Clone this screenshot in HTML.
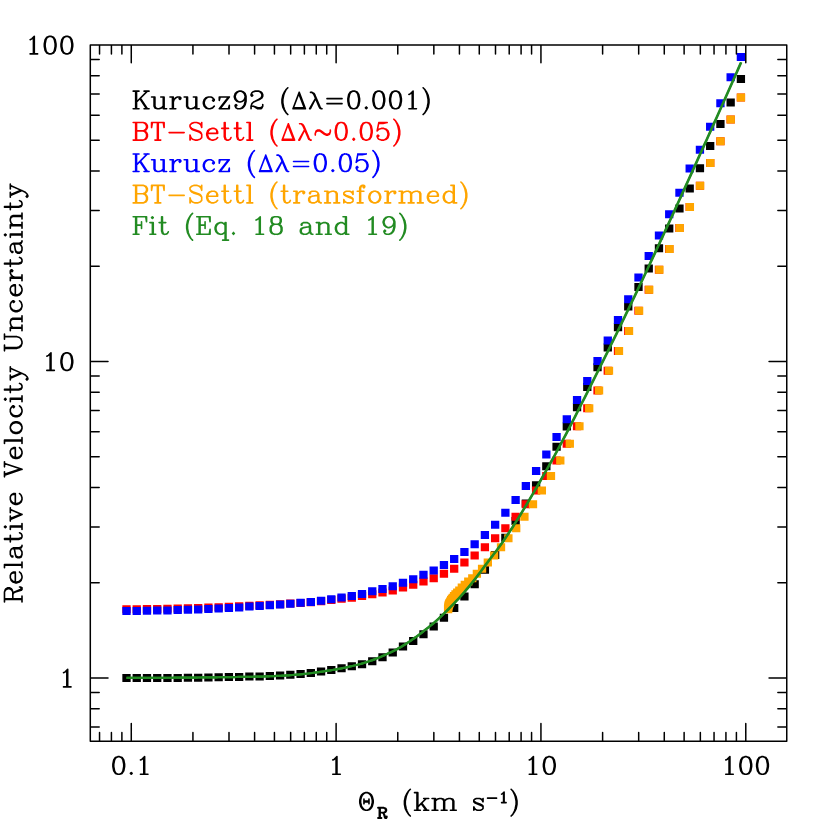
<!DOCTYPE html>
<html><head><meta charset="utf-8"><title>chart</title>
<style>html,body{margin:0;padding:0;background:#fff;font-family:"Liberation Sans",sans-serif}svg{display:block}</style>
</head><body>
<svg width="830" height="830" viewBox="0 0 830 830">
<rect width="830" height="830" fill="#fff"/>
<path d="M122.35 673.90h8.3v8.0h-8.3z M132.59 673.90h8.3v8.0h-8.3z M142.83 673.90h8.3v8.0h-8.3z M153.07 673.90h8.3v8.0h-8.3z M163.31 673.90h8.3v8.0h-8.3z M173.55 673.90h8.3v8.0h-8.3z M183.79 673.80h8.3v8.0h-8.3z M194.03 673.70h8.3v8.0h-8.3z M204.27 673.50h8.3v8.0h-8.3z M214.51 673.30h8.3v8.0h-8.3z M224.75 673.10h8.3v8.0h-8.3z M234.99 672.90h8.3v8.0h-8.3z M245.23 672.60h8.3v8.0h-8.3z M255.47 672.40h8.3v8.0h-8.3z M265.71 672.00h8.3v8.0h-8.3z M275.95 671.40h8.3v8.0h-8.3z M286.19 670.80h8.3v8.0h-8.3z M296.43 670.00h8.3v8.0h-8.3z M306.67 668.90h8.3v8.0h-8.3z M316.91 667.60h8.3v8.0h-8.3z M327.15 666.00h8.3v8.0h-8.3z M337.39 664.20h8.3v8.0h-8.3z M347.63 662.30h8.3v8.0h-8.3z M357.87 660.20h8.3v8.0h-8.3z M368.11 657.20h8.3v8.0h-8.3z M378.35 653.30h8.3v8.0h-8.3z M388.59 648.40h8.3v8.0h-8.3z M398.83 642.50h8.3v8.0h-8.3z M409.07 636.90h8.3v8.0h-8.3z M419.31 630.20h8.3v8.0h-8.3z M429.55 622.40h8.3v8.0h-8.3z M439.79 613.70h8.3v8.0h-8.3z M450.03 603.90h8.3v8.0h-8.3z M460.27 592.60h8.3v8.0h-8.3z M470.51 580.20h8.3v8.0h-8.3z M480.75 565.70h8.3v8.0h-8.3z M490.99 551.00h8.3v8.0h-8.3z M501.23 533.70h8.3v8.0h-8.3z M511.47 517.00h8.3v8.0h-8.3z M521.71 499.50h8.3v8.0h-8.3z M531.95 481.30h8.3v8.0h-8.3z M542.19 462.30h8.3v8.0h-8.3z M552.43 442.70h8.3v8.0h-8.3z M562.67 422.60h8.3v8.0h-8.3z M572.91 403.20h8.3v8.0h-8.3z M583.15 383.00h8.3v8.0h-8.3z M593.39 363.20h8.3v8.0h-8.3z M603.63 343.50h8.3v8.0h-8.3z M613.87 323.30h8.3v8.0h-8.3z M624.11 302.50h8.3v8.0h-8.3z M634.35 282.90h8.3v8.0h-8.3z M644.59 264.40h8.3v8.0h-8.3z M654.83 244.20h8.3v8.0h-8.3z M665.07 224.50h8.3v8.0h-8.3z M675.31 204.50h8.3v8.0h-8.3z M685.55 184.40h8.3v8.0h-8.3z M695.79 164.20h8.3v8.0h-8.3z M706.03 142.00h8.3v8.0h-8.3z M716.27 120.10h8.3v8.0h-8.3z M726.51 98.50h8.3v8.0h-8.3z M736.75 75.00h8.3v8.0h-8.3z" fill="#000000"/>
<path d="M122.35 605.20h8.3v8.0h-8.3z M132.59 605.14h8.3v8.0h-8.3z M142.83 605.08h8.3v8.0h-8.3z M153.07 604.92h8.3v8.0h-8.3z M163.31 604.76h8.3v8.0h-8.3z M173.55 604.50h8.3v8.0h-8.3z M183.79 604.24h8.3v8.0h-8.3z M194.03 603.88h8.3v8.0h-8.3z M204.27 603.52h8.3v8.0h-8.3z M214.51 603.16h8.3v8.0h-8.3z M224.75 602.70h8.3v8.0h-8.3z M234.99 602.32h8.3v8.0h-8.3z M245.23 601.63h8.3v8.0h-8.3z M255.47 601.25h8.3v8.0h-8.3z M265.71 600.76h8.3v8.0h-8.3z M275.95 600.28h8.3v8.0h-8.3z M286.19 599.59h8.3v8.0h-8.3z M296.43 598.92h8.3v8.0h-8.3z M306.67 598.37h8.3v8.0h-8.3z M316.91 597.31h8.3v8.0h-8.3z M327.15 596.06h8.3v8.0h-8.3z M337.39 594.70h8.3v8.0h-8.3z M347.63 593.70h8.3v8.0h-8.3z M357.87 592.00h8.3v8.0h-8.3z M368.11 590.30h8.3v8.0h-8.3z M378.35 588.60h8.3v8.0h-8.3z M388.59 586.50h8.3v8.0h-8.3z M398.83 583.60h8.3v8.0h-8.3z M409.07 580.70h8.3v8.0h-8.3z M419.31 577.40h8.3v8.0h-8.3z M429.55 574.20h8.3v8.0h-8.3z M439.79 569.80h8.3v8.0h-8.3z M450.03 564.80h8.3v8.0h-8.3z M460.27 558.50h8.3v8.0h-8.3z M470.51 551.50h8.3v8.0h-8.3z M480.75 543.20h8.3v8.0h-8.3z M490.99 534.30h8.3v8.0h-8.3z M501.23 524.20h8.3v8.0h-8.3z M511.47 512.80h8.3v8.0h-8.3z M521.71 500.20h8.3v8.0h-8.3z M531.95 486.50h8.3v8.0h-8.3z M542.19 472.00h8.3v8.0h-8.3z M552.43 456.40h8.3v8.0h-8.3z M562.67 439.80h8.3v8.0h-8.3z M572.91 422.20h8.3v8.0h-8.3z M583.15 404.20h8.3v8.0h-8.3z M593.39 386.50h8.3v8.0h-8.3z M603.63 366.80h8.3v8.0h-8.3z M613.87 347.00h8.3v8.0h-8.3z M624.11 327.10h8.3v8.0h-8.3z M634.35 306.70h8.3v8.0h-8.3z M644.59 285.80h8.3v8.0h-8.3z M654.83 265.70h8.3v8.0h-8.3z M665.07 244.90h8.3v8.0h-8.3z M675.31 224.10h8.3v8.0h-8.3z M685.55 203.10h8.3v8.0h-8.3z M695.79 181.70h8.3v8.0h-8.3z M706.03 159.10h8.3v8.0h-8.3z M716.27 137.20h8.3v8.0h-8.3z M726.51 115.50h8.3v8.0h-8.3z M736.75 93.50h8.3v8.0h-8.3z" fill="#ff0000"/>
<path d="M122.35 607.00h8.3v8.0h-8.3z M132.59 606.90h8.3v8.0h-8.3z M142.83 606.80h8.3v8.0h-8.3z M153.07 606.60h8.3v8.0h-8.3z M163.31 606.40h8.3v8.0h-8.3z M173.55 606.10h8.3v8.0h-8.3z M183.79 605.80h8.3v8.0h-8.3z M194.03 605.40h8.3v8.0h-8.3z M204.27 605.00h8.3v8.0h-8.3z M214.51 604.60h8.3v8.0h-8.3z M224.75 604.10h8.3v8.0h-8.3z M234.99 603.50h8.3v8.0h-8.3z M245.23 602.60h8.3v8.0h-8.3z M255.47 602.00h8.3v8.0h-8.3z M265.71 601.30h8.3v8.0h-8.3z M275.95 600.60h8.3v8.0h-8.3z M286.19 599.70h8.3v8.0h-8.3z M296.43 598.80h8.3v8.0h-8.3z M306.67 598.00h8.3v8.0h-8.3z M316.91 596.70h8.3v8.0h-8.3z M327.15 595.20h8.3v8.0h-8.3z M337.39 593.60h8.3v8.0h-8.3z M347.63 592.00h8.3v8.0h-8.3z M357.87 589.90h8.3v8.0h-8.3z M368.11 587.30h8.3v8.0h-8.3z M378.35 585.10h8.3v8.0h-8.3z M388.59 582.20h8.3v8.0h-8.3z M398.83 578.70h8.3v8.0h-8.3z M409.07 575.20h8.3v8.0h-8.3z M419.31 570.80h8.3v8.0h-8.3z M429.55 566.40h8.3v8.0h-8.3z M439.79 561.10h8.3v8.0h-8.3z M450.03 555.00h8.3v8.0h-8.3z M460.27 548.00h8.3v8.0h-8.3z M470.51 540.20h8.3v8.0h-8.3z M480.75 531.00h8.3v8.0h-8.3z M490.99 520.70h8.3v8.0h-8.3z M501.23 508.80h8.3v8.0h-8.3z M511.47 496.00h8.3v8.0h-8.3z M521.71 482.00h8.3v8.0h-8.3z M531.95 467.00h8.3v8.0h-8.3z M542.19 450.40h8.3v8.0h-8.3z M552.43 433.00h8.3v8.0h-8.3z M562.67 415.30h8.3v8.0h-8.3z M572.91 396.10h8.3v8.0h-8.3z M583.15 377.10h8.3v8.0h-8.3z M593.39 357.00h8.3v8.0h-8.3z M603.63 336.60h8.3v8.0h-8.3z M613.87 316.00h8.3v8.0h-8.3z M624.11 295.30h8.3v8.0h-8.3z M634.35 273.50h8.3v8.0h-8.3z M644.59 251.90h8.3v8.0h-8.3z M654.83 231.40h8.3v8.0h-8.3z M665.07 210.20h8.3v8.0h-8.3z M675.31 188.70h8.3v8.0h-8.3z M685.55 164.60h8.3v8.0h-8.3z M695.79 145.80h8.3v8.0h-8.3z M706.03 122.70h8.3v8.0h-8.3z M716.27 99.20h8.3v8.0h-8.3z M726.51 73.20h8.3v8.0h-8.3z M736.75 53.10h8.3v8.0h-8.3z" fill="#0000ff"/>
<path d="M443.94 605.20h8.3v8.0h-8.3z M443.95 605.14h8.3v8.0h-8.3z M443.96 605.08h8.3v8.0h-8.3z M443.97 604.92h8.3v8.0h-8.3z M443.99 604.76h8.3v8.0h-8.3z M444.01 604.50h8.3v8.0h-8.3z M444.04 604.24h8.3v8.0h-8.3z M444.07 603.88h8.3v8.0h-8.3z M444.11 603.52h8.3v8.0h-8.3z M444.16 603.16h8.3v8.0h-8.3z M444.23 602.70h8.3v8.0h-8.3z M444.31 602.32h8.3v8.0h-8.3z M444.42 601.63h8.3v8.0h-8.3z M444.55 601.25h8.3v8.0h-8.3z M444.71 600.76h8.3v8.0h-8.3z M444.92 600.28h8.3v8.0h-8.3z M445.17 599.59h8.3v8.0h-8.3z M445.50 598.92h8.3v8.0h-8.3z M445.90 598.37h8.3v8.0h-8.3z M446.40 597.31h8.3v8.0h-8.3z M447.02 596.06h8.3v8.0h-8.3z M447.79 594.70h8.3v8.0h-8.3z M448.74 593.70h8.3v8.0h-8.3z M449.91 592.00h8.3v8.0h-8.3z M451.34 590.30h8.3v8.0h-8.3z M453.08 588.60h8.3v8.0h-8.3z M455.18 586.50h8.3v8.0h-8.3z M457.68 583.60h8.3v8.0h-8.3z M460.65 580.70h8.3v8.0h-8.3z M464.12 577.40h8.3v8.0h-8.3z M468.14 574.20h8.3v8.0h-8.3z M472.73 569.80h8.3v8.0h-8.3z M477.91 564.80h8.3v8.0h-8.3z M483.67 558.50h8.3v8.0h-8.3z M490.00 551.50h8.3v8.0h-8.3z M496.87 543.20h8.3v8.0h-8.3z M504.24 534.30h8.3v8.0h-8.3z M512.06 524.20h8.3v8.0h-8.3z M520.28 512.80h8.3v8.0h-8.3z M528.84 500.20h8.3v8.0h-8.3z M537.71 486.50h8.3v8.0h-8.3z M546.82 472.00h8.3v8.0h-8.3z M556.15 456.40h8.3v8.0h-8.3z M565.65 439.80h8.3v8.0h-8.3z M575.29 422.20h8.3v8.0h-8.3z M585.05 404.20h8.3v8.0h-8.3z M594.91 386.50h8.3v8.0h-8.3z M604.84 366.80h8.3v8.0h-8.3z M614.83 347.00h8.3v8.0h-8.3z M624.88 327.10h8.3v8.0h-8.3z M634.96 306.70h8.3v8.0h-8.3z M645.08 285.80h8.3v8.0h-8.3z M655.22 265.70h8.3v8.0h-8.3z M665.38 244.90h8.3v8.0h-8.3z M675.55 224.10h8.3v8.0h-8.3z M685.74 203.10h8.3v8.0h-8.3z M695.94 181.70h8.3v8.0h-8.3z M706.15 159.10h8.3v8.0h-8.3z M716.37 137.20h8.3v8.0h-8.3z M726.59 115.50h8.3v8.0h-8.3z M736.81 93.50h8.3v8.0h-8.3z" fill="#ffa500"/>
<path d="M126.25 677.90 L128.25 677.90 L130.25 677.90 L132.25 677.90 L134.25 677.89 L136.25 677.89 L138.25 677.89 L140.25 677.88 L142.25 677.87 L144.25 677.87 L146.25 677.86 L148.25 677.85 L150.25 677.85 L152.25 677.84 L154.25 677.83 L156.25 677.82 L158.25 677.81 L160.25 677.80 L162.25 677.79 L164.25 677.78 L166.25 677.77 L168.25 677.75 L170.25 677.74 L172.25 677.73 L174.25 677.72 L176.25 677.71 L178.25 677.70 L180.25 677.68 L182.25 677.67 L184.25 677.65 L186.25 677.64 L188.25 677.62 L190.25 677.60 L192.25 677.58 L194.25 677.56 L196.25 677.54 L198.25 677.51 L200.25 677.49 L202.25 677.46 L204.25 677.44 L206.25 677.41 L208.25 677.39 L210.25 677.36 L212.25 677.33 L214.25 677.30 L216.25 677.28 L218.25 677.25 L220.25 677.22 L222.25 677.19 L224.25 677.16 L226.25 677.13 L228.25 677.11 L230.25 677.08 L232.25 677.05 L234.25 677.03 L236.25 677.00 L238.25 676.97 L240.25 676.95 L242.25 676.92 L244.25 676.89 L246.25 676.86 L248.25 676.83 L250.25 676.79 L252.25 676.76 L254.25 676.72 L256.25 676.68 L258.25 676.64 L260.25 676.59 L262.25 676.53 L264.25 676.47 L266.25 676.41 L268.25 676.33 L270.25 676.25 L272.25 676.17 L274.25 676.07 L276.25 675.97 L278.25 675.87 L280.25 675.76 L282.25 675.65 L284.25 675.53 L286.25 675.40 L288.25 675.28 L290.25 675.14 L292.25 675.01 L294.25 674.86 L296.25 674.71 L298.25 674.54 L300.25 674.35 L302.25 674.15 L304.25 673.94 L306.25 673.72 L308.25 673.48 L310.25 673.23 L312.25 672.97 L314.25 672.71 L316.25 672.43 L318.25 672.15 L320.25 671.86 L322.25 671.56 L324.25 671.26 L326.25 670.95 L328.25 670.64 L330.25 670.32 L332.25 669.99 L334.25 669.65 L336.25 669.30 L338.25 668.93 L340.25 668.55 L342.25 668.16 L344.25 667.75 L346.25 667.33 L348.25 666.89 L350.25 666.44 L352.25 665.97 L354.25 665.49 L356.25 664.99 L358.25 664.47 L360.25 663.94 L362.25 663.38 L364.25 662.79 L366.25 662.16 L368.25 661.51 L370.25 660.82 L372.25 660.10 L374.25 659.36 L376.25 658.58 L378.25 657.78 L380.25 656.95 L382.25 656.09 L384.25 655.21 L386.25 654.30 L388.25 653.37 L390.25 652.42 L392.25 651.45 L394.25 650.45 L396.25 649.43 L398.25 648.34 L400.25 647.21 L402.25 646.02 L404.25 644.79 L406.25 643.51 L408.25 642.19 L410.25 640.83 L412.25 639.44 L414.25 638.01 L416.25 636.55 L418.25 635.06 L420.25 633.55 L422.25 632.01 L424.25 630.45 L426.25 628.88 L428.25 627.30 L430.25 625.70 L432.25 624.05 L434.25 622.34 L436.25 620.57 L438.25 618.76 L440.25 616.89 L442.25 614.99 L444.25 613.05 L446.25 611.09 L448.25 609.10 L450.25 607.09 L452.25 605.04 L454.25 602.95 L456.25 600.82 L458.25 598.65 L460.25 596.45 L462.25 594.20 L464.25 591.91 L466.25 589.59 L468.25 587.22 L470.25 584.79 L472.25 582.30 L474.25 579.73 L476.25 577.12 L478.25 574.47 L480.25 571.80 L482.25 569.11 L484.25 566.42 L486.25 563.73 L488.25 561.07 L490.25 558.44 L492.25 555.82 L494.25 553.19 L496.25 550.55 L498.25 547.87 L500.25 545.13 L502.25 542.31 L504.25 539.41 L506.25 536.45 L508.25 533.44 L510.25 530.39 L512.25 527.30 L514.25 524.17 L516.25 521.00 L518.25 517.80 L520.25 514.56 L522.25 511.29 L524.25 507.98 L526.25 504.65 L528.25 501.29 L530.25 497.90 L532.25 494.48 L534.25 491.04 L536.25 487.58 L538.25 484.10 L540.25 480.60 L542.25 477.08 L544.25 473.55 L546.25 470.00 L548.25 466.44 L550.25 462.87 L552.25 459.28 L554.25 455.67 L556.25 452.01 L558.25 448.32 L560.25 444.58 L562.25 440.82 L564.25 437.03 L566.25 433.20 L568.25 429.35 L570.25 425.48 L572.25 421.58 L574.25 417.67 L576.25 413.74 L578.25 409.79 L580.25 405.84 L582.25 401.87 L584.25 397.90 L586.25 393.92 L588.25 389.94 L590.25 385.96 L592.25 381.99 L594.25 378.01 L596.25 374.03 L598.25 370.04 L600.25 366.04 L602.25 362.02 L604.25 358.00 L606.25 353.97 L608.25 349.92 L610.25 345.87 L612.25 341.81 L614.25 337.73 L616.25 333.65 L618.25 329.55 L620.25 325.45 L622.25 321.33 L624.25 317.20 L626.25 313.07 L628.25 308.92 L630.25 304.76 L632.25 300.60 L634.25 296.42 L636.25 292.23 L638.25 288.03 L640.25 283.82 L642.25 279.60 L644.25 275.36 L646.25 271.11 L648.25 266.86 L650.25 262.59 L652.25 258.30 L654.25 254.01 L656.25 249.71 L658.25 245.40 L660.25 241.08 L662.25 236.75 L664.25 232.41 L666.25 228.07 L668.25 223.72 L670.25 219.36 L672.25 214.99 L674.25 210.62 L676.25 206.24 L678.25 201.85 L680.25 197.47 L682.25 193.07 L684.25 188.68 L686.25 184.27 L688.25 179.87 L690.25 175.46 L692.25 171.05 L694.25 166.64 L696.25 162.23 L698.25 157.81 L700.25 153.40 L702.25 148.97 L704.25 144.55 L706.25 140.11 L708.25 135.67 L710.25 131.22 L712.25 126.76 L714.25 122.30 L716.25 117.83 L718.25 113.36 L720.25 108.87 L722.25 104.39 L724.25 99.89 L726.25 95.40 L728.25 90.89 L730.25 86.38 L732.25 81.87 L734.25 77.35 L736.25 72.82 L738.25 68.29 L740.85 62.40" fill="none" stroke="#228b22" stroke-width="2.2" stroke-linejoin="round"/>
<path d="M126.75 677.90 L128.75 677.90 L130.75 677.90 L132.75 677.90 L134.75 677.89 L136.75 677.89 L138.75 677.89 L140.75 677.88 L142.75 677.87 L144.75 677.87 L146.75 677.86 L148.75 677.85 L150.75 677.85 L152.75 677.84 L154.75 677.83 L156.75 677.82 L158.75 677.81 L160.75 677.80 L162.75 677.79 L164.75 677.78 L166.75 677.77 L168.75 677.75 L170.75 677.74 L172.75 677.73 L174.75 677.72 L176.75 677.71 L178.75 677.70 L180.75 677.68 L182.75 677.67 L184.75 677.65 L186.75 677.64 L188.75 677.62 L190.75 677.60 L192.75 677.58 L194.75 677.56 L196.75 677.54 L198.75 677.51 L200.75 677.49 L202.75 677.46 L204.75 677.44 L206.75 677.41 L208.75 677.39 L210.75 677.36 L212.75 677.33 L214.75 677.30 L216.75 677.28 L218.75 677.25 L220.75 677.22 L222.75 677.19 L224.75 677.16 L226.75 677.13 L228.75 677.11 L230.75 677.08 L232.75 677.05 L234.75 677.03 L236.75 677.00 L238.75 676.97 L240.75 676.95 L242.75 676.92 L244.75 676.89 L246.75 676.86 L248.75 676.83 L250.75 676.79 L252.75 676.76 L254.75 676.72 L256.75 676.68 L258.75 676.64 L260.75 676.59 L262.75 676.53 L264.75 676.47 L266.75 676.41 L268.75 676.33 L270.75 676.25 L272.75 676.17 L274.75 676.07 L276.75 675.97 L278.75 675.87 L280.75 675.76 L282.75 675.65 L284.75 675.53 L286.75 675.40 L288.75 675.28 L290.75 675.14 L292.75 675.01 L294.75 674.86 L296.75 674.71 L298.75 674.54 L300.75 674.35 L302.75 674.15 L304.75 673.94 L306.75 673.72 L308.75 673.48 L310.75 673.23 L312.75 672.97 L314.75 672.71 L316.75 672.43 L318.75 672.15 L320.75 671.86 L322.75 671.56 L324.75 671.26 L326.75 670.95 L328.75 670.64 L330.75 670.32 L332.75 669.99 L334.75 669.65 L336.75 669.30 L338.75 668.93 L340.75 668.55 L342.75 668.16 L344.75 667.75 L346.75 667.33 L348.75 666.89 L350.75 666.44 L352.75 665.97 L354.75 665.49 L356.75 664.99 L358.75 664.47 L360.75 663.94 L362.75 663.38 L364.75 662.79 L366.75 662.16 L368.75 661.51 L370.75 660.82 L372.75 660.10 L374.75 659.36 L376.75 658.58 L378.75 657.78 L380.75 656.95 L382.75 656.09 L384.75 655.21 L386.75 654.30 L388.75 653.37 L390.75 652.42 L392.75 651.45 L394.75 650.45 L396.75 649.43 L398.75 648.34 L400.75 647.21 L402.75 646.02 L404.75 644.79 L406.75 643.51 L408.75 642.19 L410.75 640.83 L412.75 639.44 L414.75 638.01 L416.75 636.55 L418.75 635.06 L420.75 633.55 L422.75 632.01 L424.75 630.45 L426.75 628.88 L428.75 627.30 L430.75 625.70 L432.75 624.05 L434.75 622.34 L436.75 620.57 L438.75 618.76 L440.75 616.89 L442.75 614.99 L444.75 613.05 L446.75 611.09 L448.75 609.10 L450.75 607.09 L452.75 605.04 L454.75 602.95 L456.75 600.82 L458.75 598.65 L460.75 596.45 L462.75 594.20 L464.75 591.91 L466.75 589.59 L468.75 587.22 L470.75 584.79 L472.75 582.30 L474.75 579.73 L476.75 577.12 L478.75 574.47 L480.75 571.80 L482.75 569.11 L484.75 566.42 L486.75 563.73 L488.75 561.07 L490.75 558.44 L492.75 555.82 L494.75 553.19 L496.75 550.55 L498.75 547.87 L500.75 545.13 L502.75 542.31 L504.75 539.41 L506.75 536.45 L508.75 533.44 L510.75 530.39 L512.75 527.30 L514.75 524.17 L516.75 521.00 L518.75 517.80 L520.75 514.56 L522.75 511.29 L524.75 507.98 L526.75 504.65 L528.75 501.29 L530.75 497.90 L532.75 494.48 L534.75 491.04 L536.75 487.58 L538.75 484.10 L540.75 480.60 L542.75 477.08 L544.75 473.55 L546.75 470.00 L548.75 466.44 L550.75 462.87 L552.75 459.28 L554.75 455.67 L556.75 452.01 L558.75 448.32 L560.75 444.58 L562.75 440.82 L564.75 437.03 L566.75 433.20 L568.75 429.35 L570.75 425.48 L572.75 421.58 L574.75 417.67 L576.75 413.74 L578.75 409.79 L580.75 405.84 L582.75 401.87 L584.75 397.90 L586.75 393.92 L588.75 389.94 L590.75 385.96 L592.75 381.99 L594.75 378.01 L596.75 374.03 L598.75 370.04 L600.75 366.04 L602.75 362.02 L604.75 358.00 L606.75 353.97 L608.75 349.92 L610.75 345.87 L612.75 341.81 L614.75 337.73 L616.75 333.65 L618.75 329.55 L620.75 325.45 L622.75 321.33 L624.75 317.20 L626.75 313.07 L628.75 308.92 L630.75 304.76 L632.75 300.60 L634.75 296.42 L636.75 292.23 L638.75 288.03 L640.75 283.82 L642.75 279.60 L644.75 275.36 L646.75 271.11 L648.75 266.86 L650.75 262.59 L652.75 258.30 L654.75 254.01 L656.75 249.71 L658.75 245.40 L660.75 241.08 L662.75 236.75 L664.75 232.41 L666.75 228.07 L668.75 223.72 L670.75 219.36 L672.75 214.99 L674.75 210.62 L676.75 206.24 L678.75 201.85 L680.75 197.47 L682.75 193.07 L684.75 188.68 L686.75 184.27 L688.75 179.87 L690.75 175.46 L692.75 171.05 L694.75 166.64 L696.75 162.23 L698.75 157.81 L700.75 153.40 L702.75 148.97 L704.75 144.55 L706.75 140.11 L708.75 135.67 L710.75 131.22 L712.75 126.76 L714.75 122.30 L716.75 117.83 L718.75 113.36 L720.75 108.87 L722.75 104.39 L724.75 99.89 L726.75 95.40 L728.75 90.89 L730.75 86.38 L732.75 81.87 L734.75 77.35 L736.75 72.82 L738.75 68.29 L741.35 62.40" fill="none" stroke="#228b22" stroke-width="2.2" stroke-linejoin="round"/>
<path d="M90.3 45.0H786.75V741.3H90.3Z M99.54 741.3v-8.9M99.54 45.0v8.9 M111.42 741.3v-8.9M111.42 45.0v8.9 M121.89 741.3v-8.9M121.89 45.0v8.9 M131.27 741.3v-17.7M131.27 45.0v17.7 M192.93 741.3v-8.9M192.93 45.0v8.9 M229.00 741.3v-8.9M229.00 45.0v8.9 M254.59 741.3v-8.9M254.59 45.0v8.9 M274.44 741.3v-8.9M274.44 45.0v8.9 M290.66 741.3v-8.9M290.66 45.0v8.9 M304.38 741.3v-8.9M304.38 45.0v8.9 M316.26 741.3v-8.9M316.26 45.0v8.9 M326.73 741.3v-8.9M326.73 45.0v8.9 M336.11 741.3v-17.7M336.11 45.0v17.7 M397.77 741.3v-8.9M397.77 45.0v8.9 M433.84 741.3v-8.9M433.84 45.0v8.9 M459.43 741.3v-8.9M459.43 45.0v8.9 M479.28 741.3v-8.9M479.28 45.0v8.9 M495.50 741.3v-8.9M495.50 45.0v8.9 M509.21 741.3v-8.9M509.21 45.0v8.9 M521.09 741.3v-8.9M521.09 45.0v8.9 M531.57 741.3v-8.9M531.57 45.0v8.9 M540.94 741.3v-17.7M540.94 45.0v17.7 M602.61 741.3v-8.9M602.61 45.0v8.9 M638.68 741.3v-8.9M638.68 45.0v8.9 M664.27 741.3v-8.9M664.27 45.0v8.9 M684.12 741.3v-8.9M684.12 45.0v8.9 M700.34 741.3v-8.9M700.34 45.0v8.9 M714.05 741.3v-8.9M714.05 45.0v8.9 M725.93 741.3v-8.9M725.93 45.0v8.9 M736.41 741.3v-8.9M736.41 45.0v8.9 M745.78 741.3v-17.7M745.78 45.0v17.7 M90.3 727.03h8.9M786.75 727.03h-8.9 M90.3 708.67h8.9M786.75 708.67h-8.9 M90.3 692.48h8.9M786.75 692.48h-8.9 M90.3 678.00h17.7M786.75 678.00h-17.7 M90.3 582.72h8.9M786.75 582.72h-8.9 M90.3 526.99h8.9M786.75 526.99h-8.9 M90.3 487.45h8.9M786.75 487.45h-8.9 M90.3 456.78h8.9M786.75 456.78h-8.9 M90.3 431.72h8.9M786.75 431.72h-8.9 M90.3 410.53h8.9M786.75 410.53h-8.9 M90.3 392.17h8.9M786.75 392.17h-8.9 M90.3 375.98h8.9M786.75 375.98h-8.9 M90.3 361.50h17.7M786.75 361.50h-17.7 M90.3 266.22h8.9M786.75 266.22h-8.9 M90.3 210.49h8.9M786.75 210.49h-8.9 M90.3 170.95h8.9M786.75 170.95h-8.9 M90.3 140.28h8.9M786.75 140.28h-8.9 M90.3 115.22h8.9M786.75 115.22h-8.9 M90.3 94.03h8.9M786.75 94.03h-8.9 M90.3 75.67h8.9M786.75 75.67h-8.9 M90.3 59.48h8.9M786.75 59.48h-8.9 M90.3 45.00h17.7M786.75 45.00h-17.7" fill="none" stroke="#000" stroke-width="1.5" stroke-linecap="round" stroke-linejoin="round"/>
<path transform="translate(131.27 774.20)" d="M-13.36 -17.54 L-15.87 -16.70 L-17.54 -14.20 L-18.37 -10.02 L-18.37 -7.51 L-17.54 -3.34 L-15.87 -0.83 L-13.36 0.00 L-11.69 0.00 L-9.19 -0.83 L-7.52 -3.34 L-6.68 -7.51 L-6.68 -10.02 L-7.52 -14.20 L-9.19 -16.70 L-11.69 -17.54 L-13.36 -17.54 M-13.36 -17.54 L-15.03 -16.70 L-15.87 -15.86 L-16.70 -14.20 L-17.54 -10.02 L-17.54 -7.51 L-16.70 -3.34 L-15.87 -1.67 L-15.03 -0.83 L-13.36 0.00 M-11.69 0.00 L-10.02 -0.83 L-9.19 -1.67 L-8.35 -3.34 L-7.52 -7.51 L-7.52 -10.02 L-8.35 -14.20 L-9.19 -15.86 L-10.02 -16.70 L-11.69 -17.54 M-0.00 -1.67 L-0.84 -0.83 L-0.00 0.00 L0.83 -0.83 L-0.00 -1.67 M9.18 -14.20 L10.85 -15.03 L13.36 -17.54 L13.36 0.00 M12.52 -16.70 L12.52 0.00 M9.18 0.00 L16.70 0.00" fill="none" stroke="#000" stroke-width="1.62" stroke-linecap="round" stroke-linejoin="round"/>
<path transform="translate(336.11 774.20)" d="M-3.34 -14.20 L-1.67 -15.03 L0.83 -17.54 L0.83 0.00 M0.00 -16.70 L0.00 0.00 M-3.34 0.00 L4.17 0.00" fill="none" stroke="#000" stroke-width="1.62" stroke-linecap="round" stroke-linejoin="round"/>
<path transform="translate(540.94 774.20)" d="M-11.69 -14.20 L-10.02 -15.03 L-7.52 -17.54 L-7.52 0.00 M-8.35 -16.70 L-8.35 0.00 M-11.69 0.00 L-4.18 0.00 M7.51 -17.54 L5.01 -16.70 L3.34 -14.20 L2.50 -10.02 L2.50 -7.51 L3.34 -3.34 L5.01 -0.83 L7.51 0.00 L9.18 0.00 L11.69 -0.83 L13.36 -3.34 L14.20 -7.51 L14.20 -10.02 L13.36 -14.20 L11.69 -16.70 L9.18 -17.54 L7.51 -17.54 M7.51 -17.54 L5.84 -16.70 L5.01 -15.86 L4.17 -14.20 L3.34 -10.02 L3.34 -7.51 L4.17 -3.34 L5.01 -1.67 L5.84 -0.83 L7.51 0.00 M9.18 0.00 L10.86 -0.83 L11.69 -1.67 L12.52 -3.34 L13.36 -7.51 L13.36 -10.02 L12.52 -14.20 L11.69 -15.86 L10.86 -16.70 L9.18 -17.54" fill="none" stroke="#000" stroke-width="1.62" stroke-linecap="round" stroke-linejoin="round"/>
<path transform="translate(745.78 774.20)" d="M-20.04 -14.20 L-18.37 -15.03 L-15.86 -17.54 L-15.86 0.00 M-16.70 -16.70 L-16.70 0.00 M-20.04 0.00 L-12.52 0.00 M-0.83 -17.54 L-3.34 -16.70 L-5.01 -14.20 L-5.84 -10.02 L-5.84 -7.51 L-5.01 -3.34 L-3.34 -0.83 L-0.83 0.00 L0.84 0.00 L3.34 -0.83 L5.01 -3.34 L5.85 -7.51 L5.85 -10.02 L5.01 -14.20 L3.34 -16.70 L0.84 -17.54 L-0.83 -17.54 M-0.83 -17.54 L-2.50 -16.70 L-3.34 -15.86 L-4.17 -14.20 L-5.01 -10.02 L-5.01 -7.51 L-4.17 -3.34 L-3.34 -1.67 L-2.50 -0.83 L-0.83 0.00 M0.84 0.00 L2.51 -0.83 L3.34 -1.67 L4.18 -3.34 L5.01 -7.51 L5.01 -10.02 L4.18 -14.20 L3.34 -15.86 L2.51 -16.70 L0.84 -17.54 M15.87 -17.54 L13.36 -16.70 L11.69 -14.20 L10.86 -10.02 L10.86 -7.51 L11.69 -3.34 L13.36 -0.83 L15.87 0.00 L17.54 0.00 L20.04 -0.83 L21.71 -3.34 L22.55 -7.51 L22.55 -10.02 L21.71 -14.20 L20.04 -16.70 L17.54 -17.54 L15.87 -17.54 M15.87 -17.54 L14.20 -16.70 L13.36 -15.86 L12.53 -14.20 L11.69 -10.02 L11.69 -7.51 L12.53 -3.34 L13.36 -1.67 L14.20 -0.83 L15.87 0.00 M17.54 0.00 L19.21 -0.83 L20.04 -1.67 L20.88 -3.34 L21.71 -7.51 L21.71 -10.02 L20.88 -14.20 L20.04 -15.86 L19.21 -16.70 L17.54 -17.54" fill="none" stroke="#000" stroke-width="1.62" stroke-linecap="round" stroke-linejoin="round"/>
<path transform="translate(75.20 686.90)" d="M-11.69 -14.20 L-10.02 -15.03 L-7.52 -17.54 L-7.52 0.00 M-8.35 -16.70 L-8.35 0.00 M-11.69 0.00 L-4.18 0.00" fill="none" stroke="#000" stroke-width="1.62" stroke-linecap="round" stroke-linejoin="round"/>
<path transform="translate(75.20 370.40)" d="M-28.39 -14.20 L-26.72 -15.03 L-24.21 -17.54 L-24.21 0.00 M-25.05 -16.70 L-25.05 0.00 M-28.39 0.00 L-20.88 0.00 M-9.18 -17.54 L-11.69 -16.70 L-13.36 -14.20 L-14.20 -10.02 L-14.20 -7.51 L-13.36 -3.34 L-11.69 -0.83 L-9.18 0.00 L-7.52 0.00 L-5.01 -0.83 L-3.34 -3.34 L-2.50 -7.51 L-2.50 -10.02 L-3.34 -14.20 L-5.01 -16.70 L-7.52 -17.54 L-9.18 -17.54 M-9.18 -17.54 L-10.86 -16.70 L-11.69 -15.86 L-12.52 -14.20 L-13.36 -10.02 L-13.36 -7.51 L-12.52 -3.34 L-11.69 -1.67 L-10.86 -0.83 L-9.18 0.00 M-7.52 0.00 L-5.84 -0.83 L-5.01 -1.67 L-4.18 -3.34 L-3.34 -7.51 L-3.34 -10.02 L-4.18 -14.20 L-5.01 -15.86 L-5.84 -16.70 L-7.52 -17.54" fill="none" stroke="#000" stroke-width="1.62" stroke-linecap="round" stroke-linejoin="round"/>
<path transform="translate(75.20 53.90)" d="M-45.09 -14.20 L-43.42 -15.03 L-40.91 -17.54 L-40.91 0.00 M-41.75 -16.70 L-41.75 0.00 M-45.09 0.00 L-37.57 0.00 M-25.88 -17.54 L-28.39 -16.70 L-30.06 -14.20 L-30.89 -10.02 L-30.89 -7.51 L-30.06 -3.34 L-28.39 -0.83 L-25.88 0.00 L-24.21 0.00 L-21.71 -0.83 L-20.04 -3.34 L-19.20 -7.51 L-19.20 -10.02 L-20.04 -14.20 L-21.71 -16.70 L-24.21 -17.54 L-25.88 -17.54 M-25.88 -17.54 L-27.55 -16.70 L-28.39 -15.86 L-29.22 -14.20 L-30.06 -10.02 L-30.06 -7.51 L-29.22 -3.34 L-28.39 -1.67 L-27.55 -0.83 L-25.88 0.00 M-24.21 0.00 L-22.54 -0.83 L-21.71 -1.67 L-20.87 -3.34 L-20.04 -7.51 L-20.04 -10.02 L-20.87 -14.20 L-21.71 -15.86 L-22.54 -16.70 L-24.21 -17.54 M-9.18 -17.54 L-11.69 -16.70 L-13.36 -14.20 L-14.19 -10.02 L-14.19 -7.51 L-13.36 -3.34 L-11.69 -0.83 L-9.18 0.00 L-7.51 0.00 L-5.01 -0.83 L-3.34 -3.34 L-2.50 -7.51 L-2.50 -10.02 L-3.34 -14.20 L-5.01 -16.70 L-7.51 -17.54 L-9.18 -17.54 M-9.18 -17.54 L-10.85 -16.70 L-11.69 -15.86 L-12.52 -14.20 L-13.36 -10.02 L-13.36 -7.51 L-12.52 -3.34 L-11.69 -1.67 L-10.85 -0.83 L-9.18 0.00 M-7.51 0.00 L-5.84 -0.83 L-5.01 -1.67 L-4.17 -3.34 L-3.34 -7.51 L-3.34 -10.02 L-4.17 -14.20 L-5.01 -15.86 L-5.84 -16.70 L-7.51 -17.54" fill="none" stroke="#000" stroke-width="1.62" stroke-linecap="round" stroke-linejoin="round"/>
<path transform="translate(438.80 810.20)" d="M-73.16 -17.56 L-75.67 -16.72 L-77.34 -15.05 L-78.18 -13.38 L-79.02 -10.03 L-79.02 -7.52 L-78.18 -4.18 L-77.34 -2.51 L-75.67 -0.84 L-73.16 0.00 L-71.49 0.00 L-68.98 -0.84 L-67.31 -2.51 L-66.48 -4.18 L-65.64 -7.52 L-65.64 -10.03 L-66.48 -13.38 L-67.31 -15.05 L-68.98 -16.72 L-71.49 -17.56 L-73.16 -17.56 M-73.16 -17.56 L-74.84 -16.72 L-76.51 -15.05 L-77.34 -13.38 L-78.18 -10.03 L-78.18 -7.52 L-77.34 -4.18 L-76.51 -2.51 L-74.84 -0.84 L-73.16 0.00 M-71.49 0.00 L-69.82 -0.84 L-68.15 -2.51 L-67.31 -4.18 L-66.48 -7.52 L-66.48 -10.03 L-67.31 -13.38 L-68.15 -15.05 L-69.82 -16.72 L-71.49 -17.56 M-74.84 -11.20 L-74.84 -6.35 M-69.82 -11.20 L-69.82 -6.35 M-74.84 -9.20 L-69.82 -9.20 M-74.84 -8.36 L-69.82 -8.36 M-28.49 -20.90 L-30.17 -19.23 L-31.84 -16.72 L-33.51 -13.38 L-34.35 -9.20 L-34.35 -5.85 L-33.51 -1.67 L-31.84 1.67 L-30.17 4.18 L-28.49 5.85 M-30.17 -19.23 L-31.84 -15.88 L-32.67 -13.38 L-33.51 -9.20 L-33.51 -5.85 L-32.67 -1.67 L-31.84 0.84 L-30.17 4.18 M-21.81 -17.56 L-21.81 0.00 M-20.97 -17.56 L-20.97 0.00 M-12.61 -11.70 L-20.97 -3.34 M-16.79 -6.69 L-11.77 0.00 M-17.63 -6.69 L-12.61 0.00 M-24.31 -17.56 L-20.97 -17.56 M-15.12 -11.70 L-10.10 -11.70 M-24.31 0.00 L-18.46 0.00 M-15.12 0.00 L-10.10 0.00 M-4.25 -11.70 L-4.25 0.00 M-3.41 -11.70 L-3.41 0.00 M-3.41 -9.20 L-1.74 -10.87 L0.77 -11.70 L2.44 -11.70 L4.95 -10.87 L5.78 -9.20 L5.78 0.00 M2.44 -11.70 L4.11 -10.87 L4.95 -9.20 L4.95 0.00 M5.78 -9.20 L7.45 -10.87 L9.96 -11.70 L11.63 -11.70 L14.14 -10.87 L14.98 -9.20 L14.98 0.00 M11.63 -11.70 L13.31 -10.87 L14.14 -9.20 L14.14 0.00 M-6.76 -11.70 L-3.41 -11.70 M-6.76 0.00 L-0.91 0.00 M2.44 0.00 L8.29 0.00 M11.63 0.00 L17.49 0.00 M43.40 -10.03 L44.24 -11.70 L44.24 -8.36 L43.40 -10.03 L42.57 -10.87 L40.89 -11.70 L37.55 -11.70 L35.88 -10.87 L35.04 -10.03 L35.04 -8.36 L35.88 -7.52 L37.55 -6.69 L41.73 -5.02 L43.40 -4.18 L44.24 -3.34 M35.04 -9.20 L35.88 -8.36 L37.55 -7.52 L41.73 -5.85 L43.40 -5.02 L44.24 -4.18 L44.24 -1.67 L43.40 -0.84 L41.73 0.00 L38.39 0.00 L36.71 -0.84 L35.88 -1.67 L35.04 -3.34 L35.04 0.00 L35.88 -1.67 M48.75 -12.04 L57.78 -12.04 M62.80 -16.05 L63.80 -16.55 L65.31 -18.06 L65.31 -7.52 M64.80 -17.56 L64.80 -7.52 M62.80 -7.52 L67.31 -7.52 M72.33 -20.90 L74.00 -19.23 L75.67 -16.72 L77.34 -13.38 L78.18 -9.20 L78.18 -5.85 L77.34 -1.67 L75.67 1.67 L74.00 4.18 L72.33 5.85 M74.00 -19.23 L75.67 -15.88 L76.51 -13.38 L77.34 -9.20 L77.34 -5.85 L76.51 -1.67 L75.67 0.84 L74.00 4.18" fill="none" stroke="#000" stroke-width="1.62" stroke-linecap="round" stroke-linejoin="round"/>
<path transform="translate(438.80 810.20)" d="M-59.31 -2.41 L-59.31 7.77 M-58.82 -2.41 L-58.82 7.77 M-60.76 -2.41 L-54.94 -2.41 L-53.49 -1.92 L-53.00 -1.44 L-52.52 -0.47 L-52.52 0.50 L-53.00 1.47 L-53.49 1.96 L-54.94 2.44 L-58.82 2.44 M-54.94 -2.41 L-53.97 -1.92 L-53.49 -1.44 L-53.00 -0.47 L-53.00 0.50 L-53.49 1.47 L-53.97 1.96 L-54.94 2.44 M-60.76 7.77 L-57.37 7.77 M-56.40 2.44 L-55.43 2.93 L-54.94 3.41 L-53.49 6.81 L-53.00 7.29 L-52.52 7.29 L-52.03 6.81 M-55.43 2.93 L-54.94 3.90 L-53.97 7.29 L-53.49 7.77 L-52.52 7.77 L-52.03 6.81 L-52.03 6.32" fill="none" stroke="#000" stroke-width="1.9" stroke-linecap="round" stroke-linejoin="round"/>
<path transform="translate(22.00 393.40) rotate(-90)" d="M-206.12 -17.52 L-206.12 0.00 M-205.29 -17.52 L-205.29 0.00 M-208.62 -17.52 L-198.61 -17.52 L-196.11 -16.69 L-195.27 -15.86 L-194.44 -14.19 L-194.44 -12.52 L-195.27 -10.85 L-196.11 -10.01 L-198.61 -9.18 L-205.29 -9.18 M-198.61 -17.52 L-196.94 -16.69 L-196.11 -15.86 L-195.27 -14.19 L-195.27 -12.52 L-196.11 -10.85 L-196.94 -10.01 L-198.61 -9.18 M-208.62 0.00 L-202.78 0.00 M-201.11 -9.18 L-199.45 -8.35 L-198.61 -7.51 L-196.11 -1.67 L-195.27 -0.83 L-194.44 -0.83 L-193.60 -1.67 M-199.45 -8.35 L-198.61 -6.68 L-196.94 -0.83 L-196.11 0.00 L-194.44 0.00 L-193.60 -1.67 L-193.60 -2.50 M-188.60 -6.68 L-178.58 -6.68 L-178.58 -8.35 L-179.42 -10.01 L-180.25 -10.85 L-181.92 -11.68 L-184.42 -11.68 L-186.93 -10.85 L-188.60 -9.18 L-189.43 -6.68 L-189.43 -5.01 L-188.60 -2.50 L-186.93 -0.83 L-184.42 0.00 L-182.76 0.00 L-180.25 -0.83 L-178.58 -2.50 M-179.42 -6.68 L-179.42 -9.18 L-180.25 -10.85 M-184.42 -11.68 L-186.09 -10.85 L-187.76 -9.18 L-188.60 -6.68 L-188.60 -5.01 L-187.76 -2.50 L-186.09 -0.83 L-184.42 0.00 M-171.91 -17.52 L-171.91 0.00 M-171.07 -17.52 L-171.07 0.00 M-174.41 -17.52 L-171.07 -17.52 M-174.41 0.00 L-168.57 0.00 M-162.73 -10.01 L-162.73 -9.18 L-163.56 -9.18 L-163.56 -10.01 L-162.73 -10.85 L-161.06 -11.68 L-157.72 -11.68 L-156.05 -10.85 L-155.22 -10.01 L-154.38 -8.35 L-154.38 -2.50 L-153.55 -0.83 L-152.71 0.00 M-155.22 -10.01 L-155.22 -2.50 L-154.38 -0.83 L-152.71 0.00 L-151.88 0.00 M-155.22 -8.35 L-156.05 -7.51 L-161.06 -6.68 L-163.56 -5.84 L-164.40 -4.17 L-164.40 -2.50 L-163.56 -0.83 L-161.06 0.00 L-158.56 0.00 L-156.89 -0.83 L-155.22 -2.50 M-161.06 -6.68 L-162.73 -5.84 L-163.56 -4.17 L-163.56 -2.50 L-162.73 -0.83 L-161.06 0.00 M-146.04 -17.52 L-146.04 -3.34 L-145.20 -0.83 L-143.53 0.00 L-141.87 0.00 L-140.20 -0.83 L-139.36 -2.50 M-145.20 -17.52 L-145.20 -3.34 L-144.37 -0.83 L-143.53 0.00 M-148.54 -11.68 L-141.87 -11.68 M-133.52 -17.52 L-134.35 -16.69 L-133.52 -15.86 L-132.69 -16.69 L-133.52 -17.52 M-133.52 -11.68 L-133.52 0.00 M-132.69 -11.68 L-132.69 0.00 M-136.02 -11.68 L-132.69 -11.68 M-136.02 0.00 L-130.18 0.00 M-126.01 -11.68 L-121.00 0.00 M-125.18 -11.68 L-121.00 -1.67 M-116.00 -11.68 L-121.00 0.00 M-127.68 -11.68 L-122.67 -11.68 M-119.33 -11.68 L-114.33 -11.68 M-110.15 -6.68 L-100.14 -6.68 L-100.14 -8.35 L-100.97 -10.01 L-101.81 -10.85 L-103.48 -11.68 L-105.98 -11.68 L-108.48 -10.85 L-110.15 -9.18 L-110.99 -6.68 L-110.99 -5.01 L-110.15 -2.50 L-108.48 -0.83 L-105.98 0.00 L-104.31 0.00 L-101.81 -0.83 L-100.14 -2.50 M-100.97 -6.68 L-100.97 -9.18 L-101.81 -10.85 M-105.98 -11.68 L-107.65 -10.85 L-109.32 -9.18 L-110.15 -6.68 L-110.15 -5.01 L-109.32 -2.50 L-107.65 -0.83 L-105.98 0.00 M-81.78 -17.52 L-75.94 0.00 M-80.95 -17.52 L-75.94 -2.50 M-70.10 -17.52 L-75.94 0.00 M-83.45 -17.52 L-78.44 -17.52 M-73.44 -17.52 L-68.43 -17.52 M-64.26 -6.68 L-54.24 -6.68 L-54.24 -8.35 L-55.08 -10.01 L-55.91 -10.85 L-57.58 -11.68 L-60.08 -11.68 L-62.59 -10.85 L-64.26 -9.18 L-65.09 -6.68 L-65.09 -5.01 L-64.26 -2.50 L-62.59 -0.83 L-60.08 0.00 L-58.41 0.00 L-55.91 -0.83 L-54.24 -2.50 M-55.08 -6.68 L-55.08 -9.18 L-55.91 -10.85 M-60.08 -11.68 L-61.75 -10.85 L-63.42 -9.18 L-64.26 -6.68 L-64.26 -5.01 L-63.42 -2.50 L-61.75 -0.83 L-60.08 0.00 M-47.57 -17.52 L-47.57 0.00 M-46.73 -17.52 L-46.73 0.00 M-50.07 -17.52 L-46.73 -17.52 M-50.07 0.00 L-44.23 0.00 M-35.05 -11.68 L-37.55 -10.85 L-39.22 -9.18 L-40.06 -6.68 L-40.06 -5.01 L-39.22 -2.50 L-37.55 -0.83 L-35.05 0.00 L-33.38 0.00 L-30.88 -0.83 L-29.21 -2.50 L-28.37 -5.01 L-28.37 -6.68 L-29.21 -9.18 L-30.88 -10.85 L-33.38 -11.68 L-35.05 -11.68 M-35.05 -11.68 L-36.72 -10.85 L-38.39 -9.18 L-39.22 -6.68 L-39.22 -5.01 L-38.39 -2.50 L-36.72 -0.83 L-35.05 0.00 M-33.38 0.00 L-31.71 -0.83 L-30.04 -2.50 L-29.21 -5.01 L-29.21 -6.68 L-30.04 -9.18 L-31.71 -10.85 L-33.38 -11.68 M-13.35 -9.18 L-14.19 -8.35 L-13.35 -7.51 L-12.52 -8.35 L-12.52 -9.18 L-14.19 -10.85 L-15.86 -11.68 L-18.36 -11.68 L-20.86 -10.85 L-22.53 -9.18 L-23.37 -6.68 L-23.37 -5.01 L-22.53 -2.50 L-20.86 -0.83 L-18.36 0.00 L-16.69 0.00 L-14.19 -0.83 L-12.52 -2.50 M-18.36 -11.68 L-20.03 -10.85 L-21.70 -9.18 L-22.53 -6.68 L-22.53 -5.01 L-21.70 -2.50 L-20.03 -0.83 L-18.36 0.00 M-5.84 -17.52 L-6.68 -16.69 L-5.84 -15.86 L-5.01 -16.69 L-5.84 -17.52 M-5.84 -11.68 L-5.84 0.00 M-5.01 -11.68 L-5.01 0.00 M-8.34 -11.68 L-5.01 -11.68 M-8.34 0.00 L-2.50 0.00 M3.34 -17.52 L3.34 -3.34 L4.17 -0.83 L5.84 0.00 L7.51 0.00 L9.18 -0.83 L10.01 -2.50 M4.17 -17.52 L4.17 -3.34 L5.01 -0.83 L5.84 0.00 M0.83 -11.68 L7.51 -11.68 M15.02 -11.68 L20.03 0.00 M15.86 -11.68 L20.03 -1.67 M25.04 -11.68 L20.03 0.00 L18.36 3.34 L16.69 5.01 L15.02 5.84 L14.19 5.84 L13.35 5.01 L14.19 4.17 L15.02 5.01 M13.35 -11.68 L18.36 -11.68 M21.70 -11.68 L26.70 -11.68 M45.06 -17.52 L45.06 -5.01 L45.90 -2.50 L47.57 -0.83 L50.07 0.00 L51.74 0.00 L54.24 -0.83 L55.91 -2.50 L56.75 -5.01 L56.75 -17.52 M45.90 -17.52 L45.90 -5.01 L46.73 -2.50 L48.40 -0.83 L50.07 0.00 M42.56 -17.52 L48.40 -17.52 M54.24 -17.52 L59.25 -17.52 M65.09 -11.68 L65.09 0.00 M65.93 -11.68 L65.93 0.00 M65.93 -9.18 L67.59 -10.85 L70.10 -11.68 L71.77 -11.68 L74.27 -10.85 L75.11 -9.18 L75.11 0.00 M71.77 -11.68 L73.44 -10.85 L74.27 -9.18 L74.27 0.00 M62.59 -11.68 L65.93 -11.68 M62.59 0.00 L68.43 0.00 M71.77 0.00 L77.61 0.00 M91.80 -9.18 L90.96 -8.35 L91.80 -7.51 L92.63 -8.35 L92.63 -9.18 L90.96 -10.85 L89.29 -11.68 L86.79 -11.68 L84.28 -10.85 L82.62 -9.18 L81.78 -6.68 L81.78 -5.01 L82.62 -2.50 L84.28 -0.83 L86.79 0.00 L88.46 0.00 L90.96 -0.83 L92.63 -2.50 M86.79 -11.68 L85.12 -10.85 L83.45 -9.18 L82.62 -6.68 L82.62 -5.01 L83.45 -2.50 L85.12 -0.83 L86.79 0.00 M98.47 -6.68 L108.49 -6.68 L108.49 -8.35 L107.65 -10.01 L106.82 -10.85 L105.15 -11.68 L102.64 -11.68 L100.14 -10.85 L98.47 -9.18 L97.64 -6.68 L97.64 -5.01 L98.47 -2.50 L100.14 -0.83 L102.64 0.00 L104.31 0.00 L106.82 -0.83 L108.49 -2.50 M107.65 -6.68 L107.65 -9.18 L106.82 -10.85 M102.64 -11.68 L100.97 -10.85 L99.31 -9.18 L98.47 -6.68 L98.47 -5.01 L99.31 -2.50 L100.97 -0.83 L102.64 0.00 M115.16 -11.68 L115.16 0.00 M116.00 -11.68 L116.00 0.00 M116.00 -6.68 L116.83 -9.18 L118.50 -10.85 L120.17 -11.68 L122.67 -11.68 L123.51 -10.85 L123.51 -10.01 L122.67 -9.18 L121.84 -10.01 L122.67 -10.85 M112.66 -11.68 L116.00 -11.68 M112.66 0.00 L118.50 0.00 M129.35 -17.52 L129.35 -3.34 L130.18 -0.83 L131.85 0.00 L133.52 0.00 L135.19 -0.83 L136.02 -2.50 M130.18 -17.52 L130.18 -3.34 L131.02 -0.83 L131.85 0.00 M126.84 -11.68 L133.52 -11.68 M141.87 -10.01 L141.87 -9.18 L141.03 -9.18 L141.03 -10.01 L141.87 -10.85 L143.53 -11.68 L146.87 -11.68 L148.54 -10.85 L149.38 -10.01 L150.21 -8.35 L150.21 -2.50 L151.04 -0.83 L151.88 0.00 M149.38 -10.01 L149.38 -2.50 L150.21 -0.83 L151.88 0.00 L152.71 0.00 M149.38 -8.35 L148.54 -7.51 L143.53 -6.68 L141.03 -5.84 L140.20 -4.17 L140.20 -2.50 L141.03 -0.83 L143.53 0.00 L146.04 0.00 L147.71 -0.83 L149.38 -2.50 M143.53 -6.68 L141.87 -5.84 L141.03 -4.17 L141.03 -2.50 L141.87 -0.83 L143.53 0.00 M158.56 -17.52 L157.72 -16.69 L158.56 -15.86 L159.39 -16.69 L158.56 -17.52 M158.56 -11.68 L158.56 0.00 M159.39 -11.68 L159.39 0.00 M156.05 -11.68 L159.39 -11.68 M156.05 0.00 L161.89 0.00 M167.73 -11.68 L167.73 0.00 M168.57 -11.68 L168.57 0.00 M168.57 -9.18 L170.24 -10.85 L172.74 -11.68 L174.41 -11.68 L176.91 -10.85 L177.75 -9.18 L177.75 0.00 M174.41 -11.68 L176.08 -10.85 L176.91 -9.18 L176.91 0.00 M165.23 -11.68 L168.57 -11.68 M165.23 0.00 L171.07 0.00 M174.41 0.00 L180.25 0.00 M186.09 -17.52 L186.09 -3.34 L186.93 -0.83 L188.60 0.00 L190.27 0.00 L191.94 -0.83 L192.77 -2.50 M186.93 -17.52 L186.93 -3.34 L187.76 -0.83 L188.60 0.00 M183.59 -11.68 L190.27 -11.68 M197.78 -11.68 L202.78 0.00 M198.61 -11.68 L202.78 -1.67 M207.79 -11.68 L202.78 0.00 L201.11 3.34 L199.45 5.01 L197.78 5.84 L196.94 5.84 L196.11 5.01 L196.94 4.17 L197.78 5.01 M196.11 -11.68 L201.11 -11.68 M204.45 -11.68 L209.46 -11.68" fill="none" stroke="#000" stroke-width="1.62" stroke-linecap="round" stroke-linejoin="round"/>
<path transform="translate(131.50 108.70)" d="M4.18 -17.56 L4.18 0.00 M5.02 -17.56 L5.02 0.00 M15.88 -17.56 L5.02 -6.69 M9.20 -10.03 L15.88 0.00 M8.36 -10.03 L15.05 0.00 M1.67 -17.56 L7.52 -17.56 M12.54 -17.56 L17.56 -17.56 M1.67 0.00 L7.52 0.00 M12.54 0.00 L17.56 0.00 M22.57 -11.70 L22.57 -2.51 L23.41 -0.84 L25.92 0.00 L27.59 0.00 L30.10 -0.84 L31.77 -2.51 M23.41 -11.70 L23.41 -2.51 L24.24 -0.84 L25.92 0.00 M31.77 -11.70 L31.77 0.00 M32.60 -11.70 L32.60 0.00 M20.06 -11.70 L23.41 -11.70 M29.26 -11.70 L32.60 -11.70 M31.77 0.00 L35.11 0.00 M40.96 -11.70 L40.96 0.00 M41.80 -11.70 L41.80 0.00 M41.80 -6.69 L42.64 -9.20 L44.31 -10.87 L45.98 -11.70 L48.49 -11.70 L49.32 -10.87 L49.32 -10.03 L48.49 -9.20 L47.65 -10.03 L48.49 -10.87 M38.46 -11.70 L41.80 -11.70 M38.46 0.00 L44.31 0.00 M55.18 -11.70 L55.18 -2.51 L56.01 -0.84 L58.52 0.00 L60.19 0.00 L62.70 -0.84 L64.37 -2.51 M56.01 -11.70 L56.01 -2.51 L56.85 -0.84 L58.52 0.00 M64.37 -11.70 L64.37 0.00 M65.21 -11.70 L65.21 0.00 M52.67 -11.70 L56.01 -11.70 M61.86 -11.70 L65.21 -11.70 M64.37 0.00 L67.72 0.00 M81.93 -9.20 L81.09 -8.36 L81.93 -7.52 L82.76 -8.36 L82.76 -9.20 L81.09 -10.87 L79.42 -11.70 L76.91 -11.70 L74.40 -10.87 L72.73 -9.20 L71.90 -6.69 L71.90 -5.02 L72.73 -2.51 L74.40 -0.84 L76.91 0.00 L78.58 0.00 L81.09 -0.84 L82.76 -2.51 M76.91 -11.70 L75.24 -10.87 L73.57 -9.20 L72.73 -6.69 L72.73 -5.02 L73.57 -2.51 L75.24 -0.84 L76.91 0.00 M96.98 -11.70 L87.78 0.00 M97.81 -11.70 L88.62 0.00 M88.62 -11.70 L87.78 -8.36 L87.78 -11.70 L97.81 -11.70 M87.78 0.00 L97.81 0.00 L97.81 -3.34 L96.98 0.00 M113.70 -11.70 L112.86 -9.20 L111.19 -7.52 L108.68 -6.69 L107.84 -6.69 L105.34 -7.52 L103.66 -9.20 L102.83 -11.70 L102.83 -12.54 L103.66 -15.05 L105.34 -16.72 L107.84 -17.56 L109.52 -17.56 L112.02 -16.72 L113.70 -15.05 L114.53 -12.54 L114.53 -7.52 L113.70 -4.18 L112.86 -2.51 L111.19 -0.84 L108.68 0.00 L106.17 0.00 L104.50 -0.84 L103.66 -2.51 L103.66 -3.34 L104.50 -4.18 L105.34 -3.34 L104.50 -2.51 M107.84 -6.69 L106.17 -7.52 L104.50 -9.20 L103.66 -11.70 L103.66 -12.54 L104.50 -15.05 L106.17 -16.72 L107.84 -17.56 M109.52 -17.56 L111.19 -16.72 L112.86 -15.05 L113.70 -12.54 L113.70 -7.52 L112.86 -4.18 L112.02 -2.51 L110.35 -0.84 L108.68 0.00 M120.38 -14.21 L121.22 -13.38 L120.38 -12.54 L119.55 -13.38 L119.55 -14.21 L120.38 -15.88 L121.22 -16.72 L123.73 -17.56 L127.07 -17.56 L129.58 -16.72 L130.42 -15.88 L131.25 -14.21 L131.25 -12.54 L130.42 -10.87 L127.91 -9.20 L123.73 -7.52 L122.06 -6.69 L120.38 -5.02 L119.55 -2.51 L119.55 0.00 M127.07 -17.56 L128.74 -16.72 L129.58 -15.88 L130.42 -14.21 L130.42 -12.54 L129.58 -10.87 L127.07 -9.20 L123.73 -7.52 M119.55 -1.67 L120.38 -2.51 L122.06 -2.51 L126.24 -0.84 L128.74 -0.84 L130.42 -1.67 L131.25 -2.51 M122.06 -2.51 L126.24 0.00 L129.58 0.00 L130.42 -0.84 L131.25 -2.51 L131.25 -4.18 M156.33 -20.90 L154.66 -19.23 L152.99 -16.72 L151.32 -13.38 L150.48 -9.20 L150.48 -5.85 L151.32 -1.67 L152.99 1.67 L154.66 4.18 L156.33 5.85 M154.66 -19.23 L152.99 -15.88 L152.15 -13.38 L151.32 -9.20 L151.32 -5.85 L152.15 -1.67 L152.99 0.84 L154.66 4.18 M167.71 -16.33 L161.49 0.00 M167.71 -16.33 L173.93 0.00 M167.71 -13.99 L173.16 0.00 M162.27 -0.78 L173.16 -0.78 M161.49 0.00 L173.93 0.00 M178.92 -16.33 L180.48 -16.33 L182.03 -15.55 L182.81 -14.77 L183.59 -13.22 L188.25 -2.33 L189.03 -0.78 L189.81 0.00 M180.48 -16.33 L182.03 -14.77 L182.81 -13.22 L187.47 -2.33 L188.25 -0.78 L189.81 0.00 L190.58 0.00 M184.36 -10.88 L178.14 0.00 M184.36 -10.88 L178.92 0.00 M195.48 -10.03 L210.53 -10.03 M195.48 -5.02 L210.53 -5.02 M221.40 -17.56 L218.89 -16.72 L217.22 -14.21 L216.38 -10.03 L216.38 -7.52 L217.22 -3.34 L218.89 -0.84 L221.40 0.00 L223.07 0.00 L225.58 -0.84 L227.25 -3.34 L228.09 -7.52 L228.09 -10.03 L227.25 -14.21 L225.58 -16.72 L223.07 -17.56 L221.40 -17.56 M221.40 -17.56 L219.73 -16.72 L218.89 -15.88 L218.06 -14.21 L217.22 -10.03 L217.22 -7.52 L218.06 -3.34 L218.89 -1.67 L219.73 -0.84 L221.40 0.00 M223.07 0.00 L224.74 -0.84 L225.58 -1.67 L226.42 -3.34 L227.25 -7.52 L227.25 -10.03 L226.42 -14.21 L225.58 -15.88 L224.74 -16.72 L223.07 -17.56 M234.78 -1.67 L233.94 -0.84 L234.78 0.00 L235.61 -0.84 L234.78 -1.67 M246.48 -17.56 L243.97 -16.72 L242.30 -14.21 L241.46 -10.03 L241.46 -7.52 L242.30 -3.34 L243.97 -0.84 L246.48 0.00 L248.15 0.00 L250.66 -0.84 L252.33 -3.34 L253.17 -7.52 L253.17 -10.03 L252.33 -14.21 L250.66 -16.72 L248.15 -17.56 L246.48 -17.56 M246.48 -17.56 L244.81 -16.72 L243.97 -15.88 L243.14 -14.21 L242.30 -10.03 L242.30 -7.52 L243.14 -3.34 L243.97 -1.67 L244.81 -0.84 L246.48 0.00 M248.15 0.00 L249.82 -0.84 L250.66 -1.67 L251.50 -3.34 L252.33 -7.52 L252.33 -10.03 L251.50 -14.21 L250.66 -15.88 L249.82 -16.72 L248.15 -17.56 M263.20 -17.56 L260.69 -16.72 L259.02 -14.21 L258.18 -10.03 L258.18 -7.52 L259.02 -3.34 L260.69 -0.84 L263.20 0.00 L264.87 0.00 L267.38 -0.84 L269.05 -3.34 L269.89 -7.52 L269.89 -10.03 L269.05 -14.21 L267.38 -16.72 L264.87 -17.56 L263.20 -17.56 M263.20 -17.56 L261.53 -16.72 L260.69 -15.88 L259.86 -14.21 L259.02 -10.03 L259.02 -7.52 L259.86 -3.34 L260.69 -1.67 L261.53 -0.84 L263.20 0.00 M264.87 0.00 L266.54 -0.84 L267.38 -1.67 L268.22 -3.34 L269.05 -7.52 L269.05 -10.03 L268.22 -14.21 L267.38 -15.88 L266.54 -16.72 L264.87 -17.56 M277.41 -14.21 L279.08 -15.05 L281.59 -17.56 L281.59 0.00 M280.76 -16.72 L280.76 0.00 M277.41 0.00 L284.94 0.00 M291.62 -20.90 L293.30 -19.23 L294.97 -16.72 L296.64 -13.38 L297.48 -9.20 L297.48 -5.85 L296.64 -1.67 L294.97 1.67 L293.30 4.18 L291.62 5.85 M293.30 -19.23 L294.97 -15.88 L295.80 -13.38 L296.64 -9.20 L296.64 -5.85 L295.80 -1.67 L294.97 0.84 L293.30 4.18" fill="none" stroke="#000000" stroke-width="1.62" stroke-linecap="round" stroke-linejoin="round"/>
<path transform="translate(131.50 140.10)" d="M4.18 -17.56 L4.18 0.00 M5.02 -17.56 L5.02 0.00 M1.67 -17.56 L11.70 -17.56 L14.21 -16.72 L15.05 -15.88 L15.88 -14.21 L15.88 -12.54 L15.05 -10.87 L14.21 -10.03 L11.70 -9.20 M11.70 -17.56 L13.38 -16.72 L14.21 -15.88 L15.05 -14.21 L15.05 -12.54 L14.21 -10.87 L13.38 -10.03 L11.70 -9.20 M5.02 -9.20 L11.70 -9.20 L14.21 -8.36 L15.05 -7.52 L15.88 -5.85 L15.88 -3.34 L15.05 -1.67 L14.21 -0.84 L11.70 0.00 L1.67 0.00 M11.70 -9.20 L13.38 -8.36 L14.21 -7.52 L15.05 -5.85 L15.05 -3.34 L14.21 -1.67 L13.38 -0.84 L11.70 0.00 M25.92 -17.56 L25.92 0.00 M26.75 -17.56 L26.75 0.00 M20.90 -17.56 L20.06 -12.54 L20.06 -17.56 L32.60 -17.56 L32.60 -12.54 L31.77 -17.56 M23.41 0.00 L29.26 0.00 M37.62 -7.52 L52.67 -7.52 M69.39 -15.05 L70.22 -17.56 L70.22 -12.54 L69.39 -15.05 L67.72 -16.72 L65.21 -17.56 L62.70 -17.56 L60.19 -16.72 L58.52 -15.05 L58.52 -13.38 L59.36 -11.70 L60.19 -10.87 L61.86 -10.03 L66.88 -8.36 L68.55 -7.52 L70.22 -5.85 M58.52 -13.38 L60.19 -11.70 L61.86 -10.87 L66.88 -9.20 L68.55 -8.36 L69.39 -7.52 L70.22 -5.85 L70.22 -2.51 L68.55 -0.84 L66.04 0.00 L63.54 0.00 L61.03 -0.84 L59.36 -2.51 L58.52 -5.02 L58.52 0.00 L59.36 -2.51 M76.08 -6.69 L86.11 -6.69 L86.11 -8.36 L85.27 -10.03 L84.44 -10.87 L82.76 -11.70 L80.26 -11.70 L77.75 -10.87 L76.08 -9.20 L75.24 -6.69 L75.24 -5.02 L76.08 -2.51 L77.75 -0.84 L80.26 0.00 L81.93 0.00 L84.44 -0.84 L86.11 -2.51 M85.27 -6.69 L85.27 -9.20 L84.44 -10.87 M80.26 -11.70 L78.58 -10.87 L76.91 -9.20 L76.08 -6.69 L76.08 -5.02 L76.91 -2.51 L78.58 -0.84 L80.26 0.00 M92.80 -17.56 L92.80 -3.34 L93.63 -0.84 L95.30 0.00 L96.98 0.00 L98.65 -0.84 L99.48 -2.51 M93.63 -17.56 L93.63 -3.34 L94.47 -0.84 L95.30 0.00 M90.29 -11.70 L96.98 -11.70 M105.34 -17.56 L105.34 -3.34 L106.17 -0.84 L107.84 0.00 L109.52 0.00 L111.19 -0.84 L112.02 -2.51 M106.17 -17.56 L106.17 -3.34 L107.01 -0.84 L107.84 0.00 M102.83 -11.70 L109.52 -11.70 M117.88 -17.56 L117.88 0.00 M118.71 -17.56 L118.71 0.00 M115.37 -17.56 L118.71 -17.56 M115.37 0.00 L121.22 0.00 M145.46 -20.90 L143.79 -19.23 L142.12 -16.72 L140.45 -13.38 L139.61 -9.20 L139.61 -5.85 L140.45 -1.67 L142.12 1.67 L143.79 4.18 L145.46 5.85 M143.79 -19.23 L142.12 -15.88 L141.28 -13.38 L140.45 -9.20 L140.45 -5.85 L141.28 -1.67 L142.12 0.84 L143.79 4.18 M156.85 -16.33 L150.63 0.00 M156.85 -16.33 L163.07 0.00 M156.85 -13.99 L162.29 0.00 M151.40 -0.78 L162.29 -0.78 M150.63 0.00 L163.07 0.00 M168.05 -16.33 L169.61 -16.33 L171.16 -15.55 L171.94 -14.77 L172.72 -13.22 L177.38 -2.33 L178.16 -0.78 L178.94 0.00 M169.61 -16.33 L171.16 -14.77 L171.94 -13.22 L176.61 -2.33 L177.38 -0.78 L178.94 0.00 L179.72 0.00 M173.50 -10.88 L167.28 0.00 M173.50 -10.88 L168.05 0.00 M183.78 -5.02 L183.78 -6.69 L184.62 -9.20 L186.29 -10.03 L187.96 -10.03 L189.63 -9.20 L192.98 -6.69 L194.65 -5.85 L196.32 -5.85 L197.99 -6.69 L198.83 -8.36 M183.78 -6.69 L184.62 -8.36 L186.29 -9.20 L187.96 -9.20 L189.63 -8.36 L192.98 -5.85 L194.65 -5.02 L196.32 -5.02 L197.99 -5.85 L198.83 -8.36 L198.83 -10.03 M208.86 -17.56 L206.35 -16.72 L204.68 -14.21 L203.84 -10.03 L203.84 -7.52 L204.68 -3.34 L206.35 -0.84 L208.86 0.00 L210.53 0.00 L213.04 -0.84 L214.71 -3.34 L215.55 -7.52 L215.55 -10.03 L214.71 -14.21 L213.04 -16.72 L210.53 -17.56 L208.86 -17.56 M208.86 -17.56 L207.19 -16.72 L206.35 -15.88 L205.52 -14.21 L204.68 -10.03 L204.68 -7.52 L205.52 -3.34 L206.35 -1.67 L207.19 -0.84 L208.86 0.00 M210.53 0.00 L212.20 -0.84 L213.04 -1.67 L213.88 -3.34 L214.71 -7.52 L214.71 -10.03 L213.88 -14.21 L213.04 -15.88 L212.20 -16.72 L210.53 -17.56 M222.24 -1.67 L221.40 -0.84 L222.24 0.00 L223.07 -0.84 L222.24 -1.67 M233.94 -17.56 L231.43 -16.72 L229.76 -14.21 L228.92 -10.03 L228.92 -7.52 L229.76 -3.34 L231.43 -0.84 L233.94 0.00 L235.61 0.00 L238.12 -0.84 L239.79 -3.34 L240.63 -7.52 L240.63 -10.03 L239.79 -14.21 L238.12 -16.72 L235.61 -17.56 L233.94 -17.56 M233.94 -17.56 L232.27 -16.72 L231.43 -15.88 L230.60 -14.21 L229.76 -10.03 L229.76 -7.52 L230.60 -3.34 L231.43 -1.67 L232.27 -0.84 L233.94 0.00 M235.61 0.00 L237.28 -0.84 L238.12 -1.67 L238.96 -3.34 L239.79 -7.52 L239.79 -10.03 L238.96 -14.21 L238.12 -15.88 L237.28 -16.72 L235.61 -17.56 M247.32 -17.56 L245.64 -9.20 M245.64 -9.20 L247.32 -10.87 L249.82 -11.70 L252.33 -11.70 L254.84 -10.87 L256.51 -9.20 L257.35 -6.69 L257.35 -5.02 L256.51 -2.51 L254.84 -0.84 L252.33 0.00 L249.82 0.00 L247.32 -0.84 L246.48 -1.67 L245.64 -3.34 L245.64 -4.18 L246.48 -5.02 L247.32 -4.18 L246.48 -3.34 M252.33 -11.70 L254.00 -10.87 L255.68 -9.20 L256.51 -6.69 L256.51 -5.02 L255.68 -2.51 L254.00 -0.84 L252.33 0.00 M247.32 -17.56 L255.68 -17.56 M247.32 -16.72 L251.50 -16.72 L255.68 -17.56 M262.36 -20.90 L264.04 -19.23 L265.71 -16.72 L267.38 -13.38 L268.22 -9.20 L268.22 -5.85 L267.38 -1.67 L265.71 1.67 L264.04 4.18 L262.36 5.85 M264.04 -19.23 L265.71 -15.88 L266.54 -13.38 L267.38 -9.20 L267.38 -5.85 L266.54 -1.67 L265.71 0.84 L264.04 4.18" fill="none" stroke="#ff0000" stroke-width="1.62" stroke-linecap="round" stroke-linejoin="round"/>
<path transform="translate(131.50 171.50)" d="M4.18 -17.56 L4.18 0.00 M5.02 -17.56 L5.02 0.00 M15.88 -17.56 L5.02 -6.69 M9.20 -10.03 L15.88 0.00 M8.36 -10.03 L15.05 0.00 M1.67 -17.56 L7.52 -17.56 M12.54 -17.56 L17.56 -17.56 M1.67 0.00 L7.52 0.00 M12.54 0.00 L17.56 0.00 M22.57 -11.70 L22.57 -2.51 L23.41 -0.84 L25.92 0.00 L27.59 0.00 L30.10 -0.84 L31.77 -2.51 M23.41 -11.70 L23.41 -2.51 L24.24 -0.84 L25.92 0.00 M31.77 -11.70 L31.77 0.00 M32.60 -11.70 L32.60 0.00 M20.06 -11.70 L23.41 -11.70 M29.26 -11.70 L32.60 -11.70 M31.77 0.00 L35.11 0.00 M40.96 -11.70 L40.96 0.00 M41.80 -11.70 L41.80 0.00 M41.80 -6.69 L42.64 -9.20 L44.31 -10.87 L45.98 -11.70 L48.49 -11.70 L49.32 -10.87 L49.32 -10.03 L48.49 -9.20 L47.65 -10.03 L48.49 -10.87 M38.46 -11.70 L41.80 -11.70 M38.46 0.00 L44.31 0.00 M55.18 -11.70 L55.18 -2.51 L56.01 -0.84 L58.52 0.00 L60.19 0.00 L62.70 -0.84 L64.37 -2.51 M56.01 -11.70 L56.01 -2.51 L56.85 -0.84 L58.52 0.00 M64.37 -11.70 L64.37 0.00 M65.21 -11.70 L65.21 0.00 M52.67 -11.70 L56.01 -11.70 M61.86 -11.70 L65.21 -11.70 M64.37 0.00 L67.72 0.00 M81.93 -9.20 L81.09 -8.36 L81.93 -7.52 L82.76 -8.36 L82.76 -9.20 L81.09 -10.87 L79.42 -11.70 L76.91 -11.70 L74.40 -10.87 L72.73 -9.20 L71.90 -6.69 L71.90 -5.02 L72.73 -2.51 L74.40 -0.84 L76.91 0.00 L78.58 0.00 L81.09 -0.84 L82.76 -2.51 M76.91 -11.70 L75.24 -10.87 L73.57 -9.20 L72.73 -6.69 L72.73 -5.02 L73.57 -2.51 L75.24 -0.84 L76.91 0.00 M96.98 -11.70 L87.78 0.00 M97.81 -11.70 L88.62 0.00 M88.62 -11.70 L87.78 -8.36 L87.78 -11.70 L97.81 -11.70 M87.78 0.00 L97.81 0.00 L97.81 -3.34 L96.98 0.00 M122.89 -20.90 L121.22 -19.23 L119.55 -16.72 L117.88 -13.38 L117.04 -9.20 L117.04 -5.85 L117.88 -1.67 L119.55 1.67 L121.22 4.18 L122.89 5.85 M121.22 -19.23 L119.55 -15.88 L118.71 -13.38 L117.88 -9.20 L117.88 -5.85 L118.71 -1.67 L119.55 0.84 L121.22 4.18 M134.27 -16.33 L128.05 0.00 M134.27 -16.33 L140.49 0.00 M134.27 -13.99 L139.72 0.00 M128.83 -0.78 L139.72 -0.78 M128.05 0.00 L140.49 0.00 M145.48 -16.33 L147.04 -16.33 L148.59 -15.55 L149.37 -14.77 L150.15 -13.22 L154.81 -2.33 L155.59 -0.78 L156.37 0.00 M147.04 -16.33 L148.59 -14.77 L149.37 -13.22 L154.03 -2.33 L154.81 -0.78 L156.37 0.00 L157.14 0.00 M150.92 -10.88 L144.70 0.00 M150.92 -10.88 L145.48 0.00 M162.04 -10.03 L177.09 -10.03 M162.04 -5.02 L177.09 -5.02 M187.96 -17.56 L185.45 -16.72 L183.78 -14.21 L182.94 -10.03 L182.94 -7.52 L183.78 -3.34 L185.45 -0.84 L187.96 0.00 L189.63 0.00 L192.14 -0.84 L193.81 -3.34 L194.65 -7.52 L194.65 -10.03 L193.81 -14.21 L192.14 -16.72 L189.63 -17.56 L187.96 -17.56 M187.96 -17.56 L186.29 -16.72 L185.45 -15.88 L184.62 -14.21 L183.78 -10.03 L183.78 -7.52 L184.62 -3.34 L185.45 -1.67 L186.29 -0.84 L187.96 0.00 M189.63 0.00 L191.30 -0.84 L192.14 -1.67 L192.98 -3.34 L193.81 -7.52 L193.81 -10.03 L192.98 -14.21 L192.14 -15.88 L191.30 -16.72 L189.63 -17.56 M201.34 -1.67 L200.50 -0.84 L201.34 0.00 L202.17 -0.84 L201.34 -1.67 M213.04 -17.56 L210.53 -16.72 L208.86 -14.21 L208.02 -10.03 L208.02 -7.52 L208.86 -3.34 L210.53 -0.84 L213.04 0.00 L214.71 0.00 L217.22 -0.84 L218.89 -3.34 L219.73 -7.52 L219.73 -10.03 L218.89 -14.21 L217.22 -16.72 L214.71 -17.56 L213.04 -17.56 M213.04 -17.56 L211.37 -16.72 L210.53 -15.88 L209.70 -14.21 L208.86 -10.03 L208.86 -7.52 L209.70 -3.34 L210.53 -1.67 L211.37 -0.84 L213.04 0.00 M214.71 0.00 L216.38 -0.84 L217.22 -1.67 L218.06 -3.34 L218.89 -7.52 L218.89 -10.03 L218.06 -14.21 L217.22 -15.88 L216.38 -16.72 L214.71 -17.56 M226.42 -17.56 L224.74 -9.20 M224.74 -9.20 L226.42 -10.87 L228.92 -11.70 L231.43 -11.70 L233.94 -10.87 L235.61 -9.20 L236.45 -6.69 L236.45 -5.02 L235.61 -2.51 L233.94 -0.84 L231.43 0.00 L228.92 0.00 L226.42 -0.84 L225.58 -1.67 L224.74 -3.34 L224.74 -4.18 L225.58 -5.02 L226.42 -4.18 L225.58 -3.34 M231.43 -11.70 L233.10 -10.87 L234.78 -9.20 L235.61 -6.69 L235.61 -5.02 L234.78 -2.51 L233.10 -0.84 L231.43 0.00 M226.42 -17.56 L234.78 -17.56 M226.42 -16.72 L230.60 -16.72 L234.78 -17.56 M241.46 -20.90 L243.14 -19.23 L244.81 -16.72 L246.48 -13.38 L247.32 -9.20 L247.32 -5.85 L246.48 -1.67 L244.81 1.67 L243.14 4.18 L241.46 5.85 M243.14 -19.23 L244.81 -15.88 L245.64 -13.38 L246.48 -9.20 L246.48 -5.85 L245.64 -1.67 L244.81 0.84 L243.14 4.18" fill="none" stroke="#0000ff" stroke-width="1.62" stroke-linecap="round" stroke-linejoin="round"/>
<path transform="translate(131.50 202.90)" d="M4.18 -17.56 L4.18 0.00 M5.02 -17.56 L5.02 0.00 M1.67 -17.56 L11.70 -17.56 L14.21 -16.72 L15.05 -15.88 L15.88 -14.21 L15.88 -12.54 L15.05 -10.87 L14.21 -10.03 L11.70 -9.20 M11.70 -17.56 L13.38 -16.72 L14.21 -15.88 L15.05 -14.21 L15.05 -12.54 L14.21 -10.87 L13.38 -10.03 L11.70 -9.20 M5.02 -9.20 L11.70 -9.20 L14.21 -8.36 L15.05 -7.52 L15.88 -5.85 L15.88 -3.34 L15.05 -1.67 L14.21 -0.84 L11.70 0.00 L1.67 0.00 M11.70 -9.20 L13.38 -8.36 L14.21 -7.52 L15.05 -5.85 L15.05 -3.34 L14.21 -1.67 L13.38 -0.84 L11.70 0.00 M25.92 -17.56 L25.92 0.00 M26.75 -17.56 L26.75 0.00 M20.90 -17.56 L20.06 -12.54 L20.06 -17.56 L32.60 -17.56 L32.60 -12.54 L31.77 -17.56 M23.41 0.00 L29.26 0.00 M37.62 -7.52 L52.67 -7.52 M69.39 -15.05 L70.22 -17.56 L70.22 -12.54 L69.39 -15.05 L67.72 -16.72 L65.21 -17.56 L62.70 -17.56 L60.19 -16.72 L58.52 -15.05 L58.52 -13.38 L59.36 -11.70 L60.19 -10.87 L61.86 -10.03 L66.88 -8.36 L68.55 -7.52 L70.22 -5.85 M58.52 -13.38 L60.19 -11.70 L61.86 -10.87 L66.88 -9.20 L68.55 -8.36 L69.39 -7.52 L70.22 -5.85 L70.22 -2.51 L68.55 -0.84 L66.04 0.00 L63.54 0.00 L61.03 -0.84 L59.36 -2.51 L58.52 -5.02 L58.52 0.00 L59.36 -2.51 M76.08 -6.69 L86.11 -6.69 L86.11 -8.36 L85.27 -10.03 L84.44 -10.87 L82.76 -11.70 L80.26 -11.70 L77.75 -10.87 L76.08 -9.20 L75.24 -6.69 L75.24 -5.02 L76.08 -2.51 L77.75 -0.84 L80.26 0.00 L81.93 0.00 L84.44 -0.84 L86.11 -2.51 M85.27 -6.69 L85.27 -9.20 L84.44 -10.87 M80.26 -11.70 L78.58 -10.87 L76.91 -9.20 L76.08 -6.69 L76.08 -5.02 L76.91 -2.51 L78.58 -0.84 L80.26 0.00 M92.80 -17.56 L92.80 -3.34 L93.63 -0.84 L95.30 0.00 L96.98 0.00 L98.65 -0.84 L99.48 -2.51 M93.63 -17.56 L93.63 -3.34 L94.47 -0.84 L95.30 0.00 M90.29 -11.70 L96.98 -11.70 M105.34 -17.56 L105.34 -3.34 L106.17 -0.84 L107.84 0.00 L109.52 0.00 L111.19 -0.84 L112.02 -2.51 M106.17 -17.56 L106.17 -3.34 L107.01 -0.84 L107.84 0.00 M102.83 -11.70 L109.52 -11.70 M117.88 -17.56 L117.88 0.00 M118.71 -17.56 L118.71 0.00 M115.37 -17.56 L118.71 -17.56 M115.37 0.00 L121.22 0.00 M145.46 -20.90 L143.79 -19.23 L142.12 -16.72 L140.45 -13.38 L139.61 -9.20 L139.61 -5.85 L140.45 -1.67 L142.12 1.67 L143.79 4.18 L145.46 5.85 M143.79 -19.23 L142.12 -15.88 L141.28 -13.38 L140.45 -9.20 L140.45 -5.85 L141.28 -1.67 L142.12 0.84 L143.79 4.18 M152.15 -17.56 L152.15 -3.34 L152.99 -0.84 L154.66 0.00 L156.33 0.00 L158.00 -0.84 L158.84 -2.51 M152.99 -17.56 L152.99 -3.34 L153.82 -0.84 L154.66 0.00 M149.64 -11.70 L156.33 -11.70 M164.69 -11.70 L164.69 0.00 M165.53 -11.70 L165.53 0.00 M165.53 -6.69 L166.36 -9.20 L168.04 -10.87 L169.71 -11.70 L172.22 -11.70 L173.05 -10.87 L173.05 -10.03 L172.22 -9.20 L171.38 -10.03 L172.22 -10.87 M162.18 -11.70 L165.53 -11.70 M162.18 0.00 L168.04 0.00 M178.90 -10.03 L178.90 -9.20 L178.07 -9.20 L178.07 -10.03 L178.90 -10.87 L180.58 -11.70 L183.92 -11.70 L185.59 -10.87 L186.43 -10.03 L187.26 -8.36 L187.26 -2.51 L188.10 -0.84 L188.94 0.00 M186.43 -10.03 L186.43 -2.51 L187.26 -0.84 L188.94 0.00 L189.77 0.00 M186.43 -8.36 L185.59 -7.52 L180.58 -6.69 L178.07 -5.85 L177.23 -4.18 L177.23 -2.51 L178.07 -0.84 L180.58 0.00 L183.08 0.00 L184.76 -0.84 L186.43 -2.51 M180.58 -6.69 L178.90 -5.85 L178.07 -4.18 L178.07 -2.51 L178.90 -0.84 L180.58 0.00 M195.62 -11.70 L195.62 0.00 M196.46 -11.70 L196.46 0.00 M196.46 -9.20 L198.13 -10.87 L200.64 -11.70 L202.31 -11.70 L204.82 -10.87 L205.66 -9.20 L205.66 0.00 M202.31 -11.70 L203.98 -10.87 L204.82 -9.20 L204.82 0.00 M193.12 -11.70 L196.46 -11.70 M193.12 0.00 L198.97 0.00 M202.31 0.00 L208.16 0.00 M220.70 -10.03 L221.54 -11.70 L221.54 -8.36 L220.70 -10.03 L219.87 -10.87 L218.20 -11.70 L214.85 -11.70 L213.18 -10.87 L212.34 -10.03 L212.34 -8.36 L213.18 -7.52 L214.85 -6.69 L219.03 -5.02 L220.70 -4.18 L221.54 -3.34 M212.34 -9.20 L213.18 -8.36 L214.85 -7.52 L219.03 -5.85 L220.70 -5.02 L221.54 -4.18 L221.54 -1.67 L220.70 -0.84 L219.03 0.00 L215.69 0.00 L214.02 -0.84 L213.18 -1.67 L212.34 -3.34 L212.34 0.00 L213.18 -1.67 M232.41 -16.72 L231.57 -15.88 L232.41 -15.05 L233.24 -15.88 L233.24 -16.72 L232.41 -17.56 L230.74 -17.56 L229.06 -16.72 L228.23 -15.05 L228.23 0.00 M230.74 -17.56 L229.90 -16.72 L229.06 -15.05 L229.06 0.00 M225.72 -11.70 L232.41 -11.70 M225.72 0.00 L231.57 0.00 M242.44 -11.70 L239.93 -10.87 L238.26 -9.20 L237.42 -6.69 L237.42 -5.02 L238.26 -2.51 L239.93 -0.84 L242.44 0.00 L244.11 0.00 L246.62 -0.84 L248.29 -2.51 L249.13 -5.02 L249.13 -6.69 L248.29 -9.20 L246.62 -10.87 L244.11 -11.70 L242.44 -11.70 M242.44 -11.70 L240.77 -10.87 L239.10 -9.20 L238.26 -6.69 L238.26 -5.02 L239.10 -2.51 L240.77 -0.84 L242.44 0.00 M244.11 0.00 L245.78 -0.84 L247.46 -2.51 L248.29 -5.02 L248.29 -6.69 L247.46 -9.20 L245.78 -10.87 L244.11 -11.70 M255.82 -11.70 L255.82 0.00 M256.65 -11.70 L256.65 0.00 M256.65 -6.69 L257.49 -9.20 L259.16 -10.87 L260.83 -11.70 L263.34 -11.70 L264.18 -10.87 L264.18 -10.03 L263.34 -9.20 L262.50 -10.03 L263.34 -10.87 M253.31 -11.70 L256.65 -11.70 M253.31 0.00 L259.16 0.00 M270.03 -11.70 L270.03 0.00 M270.86 -11.70 L270.86 0.00 M270.86 -9.20 L272.54 -10.87 L275.04 -11.70 L276.72 -11.70 L279.22 -10.87 L280.06 -9.20 L280.06 0.00 M276.72 -11.70 L278.39 -10.87 L279.22 -9.20 L279.22 0.00 M280.06 -9.20 L281.73 -10.87 L284.24 -11.70 L285.91 -11.70 L288.42 -10.87 L289.26 -9.20 L289.26 0.00 M285.91 -11.70 L287.58 -10.87 L288.42 -9.20 L288.42 0.00 M267.52 -11.70 L270.86 -11.70 M267.52 0.00 L273.37 0.00 M276.72 0.00 L282.57 0.00 M285.91 0.00 L291.76 0.00 M296.78 -6.69 L306.81 -6.69 L306.81 -8.36 L305.98 -10.03 L305.14 -10.87 L303.47 -11.70 L300.96 -11.70 L298.45 -10.87 L296.78 -9.20 L295.94 -6.69 L295.94 -5.02 L296.78 -2.51 L298.45 -0.84 L300.96 0.00 L302.63 0.00 L305.14 -0.84 L306.81 -2.51 M305.98 -6.69 L305.98 -9.20 L305.14 -10.87 M300.96 -11.70 L299.29 -10.87 L297.62 -9.20 L296.78 -6.69 L296.78 -5.02 L297.62 -2.51 L299.29 -0.84 L300.96 0.00 M321.86 -17.56 L321.86 0.00 M322.70 -17.56 L322.70 0.00 M321.86 -9.20 L320.19 -10.87 L318.52 -11.70 L316.84 -11.70 L314.34 -10.87 L312.66 -9.20 L311.83 -6.69 L311.83 -5.02 L312.66 -2.51 L314.34 -0.84 L316.84 0.00 L318.52 0.00 L320.19 -0.84 L321.86 -2.51 M316.84 -11.70 L315.17 -10.87 L313.50 -9.20 L312.66 -6.69 L312.66 -5.02 L313.50 -2.51 L315.17 -0.84 L316.84 0.00 M319.35 -17.56 L322.70 -17.56 M321.86 0.00 L325.20 0.00 M329.38 -20.90 L331.06 -19.23 L332.73 -16.72 L334.40 -13.38 L335.24 -9.20 L335.24 -5.85 L334.40 -1.67 L332.73 1.67 L331.06 4.18 L329.38 5.85 M331.06 -19.23 L332.73 -15.88 L333.56 -13.38 L334.40 -9.20 L334.40 -5.85 L333.56 -1.67 L332.73 0.84 L331.06 4.18" fill="none" stroke="#ffa500" stroke-width="1.62" stroke-linecap="round" stroke-linejoin="round"/>
<path transform="translate(131.50 234.30)" d="M4.18 -17.56 L4.18 0.00 M5.02 -17.56 L5.02 0.00 M10.03 -12.54 L10.03 -5.85 M1.67 -17.56 L15.05 -17.56 L15.05 -12.54 L14.21 -17.56 M5.02 -9.20 L10.03 -9.20 M1.67 0.00 L7.52 0.00 M20.90 -17.56 L20.06 -16.72 L20.90 -15.88 L21.74 -16.72 L20.90 -17.56 M20.90 -11.70 L20.90 0.00 M21.74 -11.70 L21.74 0.00 M18.39 -11.70 L21.74 -11.70 M18.39 0.00 L24.24 0.00 M30.10 -17.56 L30.10 -3.34 L30.93 -0.84 L32.60 0.00 L34.28 0.00 L35.95 -0.84 L36.78 -2.51 M30.93 -17.56 L30.93 -3.34 L31.77 -0.84 L32.60 0.00 M27.59 -11.70 L34.28 -11.70 M61.03 -20.90 L59.36 -19.23 L57.68 -16.72 L56.01 -13.38 L55.18 -9.20 L55.18 -5.85 L56.01 -1.67 L57.68 1.67 L59.36 4.18 L61.03 5.85 M59.36 -19.23 L57.68 -15.88 L56.85 -13.38 L56.01 -9.20 L56.01 -5.85 L56.85 -1.67 L57.68 0.84 L59.36 4.18 M67.72 -17.56 L67.72 0.00 M68.55 -17.56 L68.55 0.00 M73.57 -12.54 L73.57 -5.85 M65.21 -17.56 L78.58 -17.56 L78.58 -12.54 L77.75 -17.56 M68.55 -9.20 L73.57 -9.20 M65.21 0.00 L78.58 0.00 L78.58 -5.02 L77.75 0.00 M93.63 -11.70 L93.63 5.85 M94.47 -11.70 L94.47 5.85 M93.63 -9.20 L91.96 -10.87 L90.29 -11.70 L88.62 -11.70 L86.11 -10.87 L84.44 -9.20 L83.60 -6.69 L83.60 -5.02 L84.44 -2.51 L86.11 -0.84 L88.62 0.00 L90.29 0.00 L91.96 -0.84 L93.63 -2.51 M88.62 -11.70 L86.94 -10.87 L85.27 -9.20 L84.44 -6.69 L84.44 -5.02 L85.27 -2.51 L86.94 -0.84 L88.62 0.00 M91.12 5.85 L96.98 5.85 M101.99 -1.67 L101.16 -0.84 L101.99 0.00 L102.83 -0.84 L101.99 -1.67 M124.56 -14.21 L126.24 -15.05 L128.74 -17.56 L128.74 0.00 M127.91 -16.72 L127.91 0.00 M124.56 0.00 L132.09 0.00 M142.96 -17.56 L140.45 -16.72 L139.61 -15.05 L139.61 -12.54 L140.45 -10.87 L142.96 -10.03 L146.30 -10.03 L148.81 -10.87 L149.64 -12.54 L149.64 -15.05 L148.81 -16.72 L146.30 -17.56 L142.96 -17.56 M142.96 -17.56 L141.28 -16.72 L140.45 -15.05 L140.45 -12.54 L141.28 -10.87 L142.96 -10.03 M146.30 -10.03 L147.97 -10.87 L148.81 -12.54 L148.81 -15.05 L147.97 -16.72 L146.30 -17.56 M142.96 -10.03 L140.45 -9.20 L139.61 -8.36 L138.78 -6.69 L138.78 -3.34 L139.61 -1.67 L140.45 -0.84 L142.96 0.00 L146.30 0.00 L148.81 -0.84 L149.64 -1.67 L150.48 -3.34 L150.48 -6.69 L149.64 -8.36 L148.81 -9.20 L146.30 -10.03 M142.96 -10.03 L141.28 -9.20 L140.45 -8.36 L139.61 -6.69 L139.61 -3.34 L140.45 -1.67 L141.28 -0.84 L142.96 0.00 M146.30 0.00 L147.97 -0.84 L148.81 -1.67 L149.64 -3.34 L149.64 -6.69 L148.81 -8.36 L147.97 -9.20 L146.30 -10.03 M170.54 -10.03 L170.54 -9.20 L169.71 -9.20 L169.71 -10.03 L170.54 -10.87 L172.22 -11.70 L175.56 -11.70 L177.23 -10.87 L178.07 -10.03 L178.90 -8.36 L178.90 -2.51 L179.74 -0.84 L180.58 0.00 M178.07 -10.03 L178.07 -2.51 L178.90 -0.84 L180.58 0.00 L181.41 0.00 M178.07 -8.36 L177.23 -7.52 L172.22 -6.69 L169.71 -5.85 L168.87 -4.18 L168.87 -2.51 L169.71 -0.84 L172.22 0.00 L174.72 0.00 L176.40 -0.84 L178.07 -2.51 M172.22 -6.69 L170.54 -5.85 L169.71 -4.18 L169.71 -2.51 L170.54 -0.84 L172.22 0.00 M187.26 -11.70 L187.26 0.00 M188.10 -11.70 L188.10 0.00 M188.10 -9.20 L189.77 -10.87 L192.28 -11.70 L193.95 -11.70 L196.46 -10.87 L197.30 -9.20 L197.30 0.00 M193.95 -11.70 L195.62 -10.87 L196.46 -9.20 L196.46 0.00 M184.76 -11.70 L188.10 -11.70 M184.76 0.00 L190.61 0.00 M193.95 0.00 L199.80 0.00 M214.02 -17.56 L214.02 0.00 M214.85 -17.56 L214.85 0.00 M214.02 -9.20 L212.34 -10.87 L210.67 -11.70 L209.00 -11.70 L206.49 -10.87 L204.82 -9.20 L203.98 -6.69 L203.98 -5.02 L204.82 -2.51 L206.49 -0.84 L209.00 0.00 L210.67 0.00 L212.34 -0.84 L214.02 -2.51 M209.00 -11.70 L207.33 -10.87 L205.66 -9.20 L204.82 -6.69 L204.82 -5.02 L205.66 -2.51 L207.33 -0.84 L209.00 0.00 M211.51 -17.56 L214.85 -17.56 M214.02 0.00 L217.36 0.00 M237.42 -14.21 L239.10 -15.05 L241.60 -17.56 L241.60 0.00 M240.77 -16.72 L240.77 0.00 M237.42 0.00 L244.95 0.00 M262.50 -11.70 L261.67 -9.20 L260.00 -7.52 L257.49 -6.69 L256.65 -6.69 L254.14 -7.52 L252.47 -9.20 L251.64 -11.70 L251.64 -12.54 L252.47 -15.05 L254.14 -16.72 L256.65 -17.56 L258.32 -17.56 L260.83 -16.72 L262.50 -15.05 L263.34 -12.54 L263.34 -7.52 L262.50 -4.18 L261.67 -2.51 L260.00 -0.84 L257.49 0.00 L254.98 0.00 L253.31 -0.84 L252.47 -2.51 L252.47 -3.34 L253.31 -4.18 L254.14 -3.34 L253.31 -2.51 M256.65 -6.69 L254.98 -7.52 L253.31 -9.20 L252.47 -11.70 L252.47 -12.54 L253.31 -15.05 L254.98 -16.72 L256.65 -17.56 M258.32 -17.56 L260.00 -16.72 L261.67 -15.05 L262.50 -12.54 L262.50 -7.52 L261.67 -4.18 L260.83 -2.51 L259.16 -0.84 L257.49 0.00 M268.36 -20.90 L270.03 -19.23 L271.70 -16.72 L273.37 -13.38 L274.21 -9.20 L274.21 -5.85 L273.37 -1.67 L271.70 1.67 L270.03 4.18 L268.36 5.85 M270.03 -19.23 L271.70 -15.88 L272.54 -13.38 L273.37 -9.20 L273.37 -5.85 L272.54 -1.67 L271.70 0.84 L270.03 4.18" fill="none" stroke="#228b22" stroke-width="1.62" stroke-linecap="round" stroke-linejoin="round"/>
</svg>
</body></html>
